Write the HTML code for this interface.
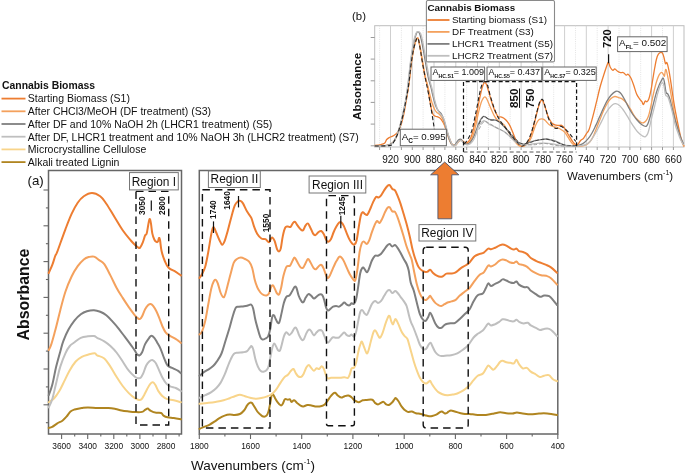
<!DOCTYPE html>
<html><head><meta charset="utf-8"><title>FTIR</title><style>html,body{margin:0;padding:0;background:#fff}svg{display:block}</style></head><body>
<svg width="685" height="475" viewBox="0 0 685 475" font-family="Liberation Sans, Arial, sans-serif" fill="#111">
<rect width="685" height="475" fill="#fff"/>
<text x="2" y="89" font-size="10.4" font-weight="bold">Cannabis Biomass</text>
<line x1="1.5" x2="25.5" y1="98.6" y2="98.6" stroke="#ED7D31" stroke-width="1.8"/>
<text x="27.8" y="102.4" font-size="10.5">Starting Biomass (S1)</text>
<line x1="1.5" x2="25.5" y1="111.3" y2="111.3" stroke="#F4A15D" stroke-width="1.8"/>
<text x="27.8" y="115.1" font-size="10.5">After CHCl3/MeOH (DF treatment) (S3)</text>
<line x1="1.5" x2="25.5" y1="124.0" y2="124.0" stroke="#7f7f7f" stroke-width="1.8"/>
<text x="27.8" y="127.8" font-size="10.5">After DF and 10% NaOH 2h (LHCR1 treatment) (S5)</text>
<line x1="1.5" x2="25.5" y1="136.7" y2="136.7" stroke="#BFBFBF" stroke-width="1.8"/>
<text x="27.8" y="140.5" font-size="10.5">After DF, LHCR1 treatment and 10% NaOH 3h (LHCR2 treatment) (S7)</text>
<line x1="1.5" x2="25.5" y1="149.4" y2="149.4" stroke="#F8D48A" stroke-width="1.8"/>
<text x="27.8" y="153.2" font-size="10.5">Microcrystalline Cellulose</text>
<line x1="1.5" x2="25.5" y1="162.1" y2="162.1" stroke="#B08520" stroke-width="1.8"/>
<text x="27.8" y="165.9" font-size="10.5">Alkali treated Lignin</text>
<rect x="374.7" y="25.7" width="309.3" height="121.3" fill="#fff" stroke="#bdbdbd" stroke-width="1"/>
<line x1="379.6" x2="379.6" y1="25.7" y2="147" stroke="#dcdcdc" stroke-width="0.8" stroke-dasharray="1,1.2"/>
<line x1="390.5" x2="390.5" y1="25.7" y2="147" stroke="#cfcfcf" stroke-width="1"/>
<line x1="401.4" x2="401.4" y1="25.7" y2="147" stroke="#dcdcdc" stroke-width="0.8" stroke-dasharray="1,1.2"/>
<line x1="412.3" x2="412.3" y1="25.7" y2="147" stroke="#cfcfcf" stroke-width="1"/>
<line x1="423.1" x2="423.1" y1="25.7" y2="147" stroke="#dcdcdc" stroke-width="0.8" stroke-dasharray="1,1.2"/>
<line x1="434.0" x2="434.0" y1="25.7" y2="147" stroke="#cfcfcf" stroke-width="1"/>
<line x1="444.9" x2="444.9" y1="25.7" y2="147" stroke="#dcdcdc" stroke-width="0.8" stroke-dasharray="1,1.2"/>
<line x1="455.8" x2="455.8" y1="25.7" y2="147" stroke="#cfcfcf" stroke-width="1"/>
<line x1="466.7" x2="466.7" y1="25.7" y2="147" stroke="#dcdcdc" stroke-width="0.8" stroke-dasharray="1,1.2"/>
<line x1="477.5" x2="477.5" y1="25.7" y2="147" stroke="#cfcfcf" stroke-width="1"/>
<line x1="488.4" x2="488.4" y1="25.7" y2="147" stroke="#dcdcdc" stroke-width="0.8" stroke-dasharray="1,1.2"/>
<line x1="499.3" x2="499.3" y1="25.7" y2="147" stroke="#cfcfcf" stroke-width="1"/>
<line x1="510.2" x2="510.2" y1="25.7" y2="147" stroke="#dcdcdc" stroke-width="0.8" stroke-dasharray="1,1.2"/>
<line x1="521.1" x2="521.1" y1="25.7" y2="147" stroke="#cfcfcf" stroke-width="1"/>
<line x1="531.9" x2="531.9" y1="25.7" y2="147" stroke="#dcdcdc" stroke-width="0.8" stroke-dasharray="1,1.2"/>
<line x1="542.8" x2="542.8" y1="25.7" y2="147" stroke="#cfcfcf" stroke-width="1"/>
<line x1="553.7" x2="553.7" y1="25.7" y2="147" stroke="#dcdcdc" stroke-width="0.8" stroke-dasharray="1,1.2"/>
<line x1="564.6" x2="564.6" y1="25.7" y2="147" stroke="#cfcfcf" stroke-width="1"/>
<line x1="575.5" x2="575.5" y1="25.7" y2="147" stroke="#dcdcdc" stroke-width="0.8" stroke-dasharray="1,1.2"/>
<line x1="586.3" x2="586.3" y1="25.7" y2="147" stroke="#cfcfcf" stroke-width="1"/>
<line x1="597.2" x2="597.2" y1="25.7" y2="147" stroke="#dcdcdc" stroke-width="0.8" stroke-dasharray="1,1.2"/>
<line x1="608.1" x2="608.1" y1="25.7" y2="147" stroke="#cfcfcf" stroke-width="1"/>
<line x1="619.0" x2="619.0" y1="25.7" y2="147" stroke="#dcdcdc" stroke-width="0.8" stroke-dasharray="1,1.2"/>
<line x1="629.9" x2="629.9" y1="25.7" y2="147" stroke="#cfcfcf" stroke-width="1"/>
<line x1="640.7" x2="640.7" y1="25.7" y2="147" stroke="#dcdcdc" stroke-width="0.8" stroke-dasharray="1,1.2"/>
<line x1="651.6" x2="651.6" y1="25.7" y2="147" stroke="#cfcfcf" stroke-width="1"/>
<line x1="662.5" x2="662.5" y1="25.7" y2="147" stroke="#dcdcdc" stroke-width="0.8" stroke-dasharray="1,1.2"/>
<line x1="673.4" x2="673.4" y1="25.7" y2="147" stroke="#cfcfcf" stroke-width="1"/>
<line x1="370.7" x2="374.7" y1="37.5" y2="37.5" stroke="#9a9a9a" stroke-width="1"/>
<line x1="370.7" x2="374.7" y1="59.1" y2="59.1" stroke="#9a9a9a" stroke-width="1"/>
<line x1="370.7" x2="374.7" y1="80.8" y2="80.8" stroke="#9a9a9a" stroke-width="1"/>
<line x1="370.7" x2="374.7" y1="102.4" y2="102.4" stroke="#9a9a9a" stroke-width="1"/>
<line x1="370.7" x2="374.7" y1="124.1" y2="124.1" stroke="#9a9a9a" stroke-width="1"/>
<line x1="370.7" x2="374.7" y1="145.8" y2="145.8" stroke="#9a9a9a" stroke-width="1"/>
<text x="390.5" y="162.8" font-size="10" text-anchor="middle">920</text>
<text x="412.3" y="162.8" font-size="10" text-anchor="middle">900</text>
<text x="434.0" y="162.8" font-size="10" text-anchor="middle">880</text>
<text x="455.8" y="162.8" font-size="10" text-anchor="middle">860</text>
<text x="477.5" y="162.8" font-size="10" text-anchor="middle">840</text>
<text x="499.3" y="162.8" font-size="10" text-anchor="middle">820</text>
<text x="521.1" y="162.8" font-size="10" text-anchor="middle">800</text>
<text x="542.8" y="162.8" font-size="10" text-anchor="middle">780</text>
<text x="564.6" y="162.8" font-size="10" text-anchor="middle">760</text>
<text x="586.3" y="162.8" font-size="10" text-anchor="middle">740</text>
<text x="608.1" y="162.8" font-size="10" text-anchor="middle">720</text>
<text x="629.9" y="162.8" font-size="10" text-anchor="middle">700</text>
<text x="651.6" y="162.8" font-size="10" text-anchor="middle">680</text>
<text x="673.4" y="162.8" font-size="10" text-anchor="middle">660</text>
<text x="352" y="20.3" font-size="11.4">(b)</text>
<text transform="translate(361.3,86.4) rotate(-90)" font-size="11.6" font-weight="bold" text-anchor="middle">Absorbance</text>
<text x="567" y="179.5" font-size="11.5">Wavenumbers (cm<tspan font-size="7" dy="-5">-1</tspan><tspan dy="5">)</tspan></text>
<line x1="379.6" x2="379.6" y1="147" y2="150" stroke="#9a9a9a" stroke-width="1"/>
<line x1="390.5" x2="390.5" y1="147" y2="150" stroke="#9a9a9a" stroke-width="1"/>
<line x1="401.4" x2="401.4" y1="147" y2="150" stroke="#9a9a9a" stroke-width="1"/>
<line x1="412.3" x2="412.3" y1="147" y2="150" stroke="#9a9a9a" stroke-width="1"/>
<line x1="423.1" x2="423.1" y1="147" y2="150" stroke="#9a9a9a" stroke-width="1"/>
<line x1="434.0" x2="434.0" y1="147" y2="150" stroke="#9a9a9a" stroke-width="1"/>
<line x1="444.9" x2="444.9" y1="147" y2="150" stroke="#9a9a9a" stroke-width="1"/>
<line x1="455.8" x2="455.8" y1="147" y2="150" stroke="#9a9a9a" stroke-width="1"/>
<line x1="466.7" x2="466.7" y1="147" y2="150" stroke="#9a9a9a" stroke-width="1"/>
<line x1="477.5" x2="477.5" y1="147" y2="150" stroke="#9a9a9a" stroke-width="1"/>
<line x1="488.4" x2="488.4" y1="147" y2="150" stroke="#9a9a9a" stroke-width="1"/>
<line x1="499.3" x2="499.3" y1="147" y2="150" stroke="#9a9a9a" stroke-width="1"/>
<line x1="510.2" x2="510.2" y1="147" y2="150" stroke="#9a9a9a" stroke-width="1"/>
<line x1="521.1" x2="521.1" y1="147" y2="150" stroke="#9a9a9a" stroke-width="1"/>
<line x1="531.9" x2="531.9" y1="147" y2="150" stroke="#9a9a9a" stroke-width="1"/>
<line x1="542.8" x2="542.8" y1="147" y2="150" stroke="#9a9a9a" stroke-width="1"/>
<line x1="553.7" x2="553.7" y1="147" y2="150" stroke="#9a9a9a" stroke-width="1"/>
<line x1="564.6" x2="564.6" y1="147" y2="150" stroke="#9a9a9a" stroke-width="1"/>
<line x1="575.5" x2="575.5" y1="147" y2="150" stroke="#9a9a9a" stroke-width="1"/>
<line x1="586.3" x2="586.3" y1="147" y2="150" stroke="#9a9a9a" stroke-width="1"/>
<line x1="597.2" x2="597.2" y1="147" y2="150" stroke="#9a9a9a" stroke-width="1"/>
<line x1="608.1" x2="608.1" y1="147" y2="150" stroke="#9a9a9a" stroke-width="1"/>
<line x1="619.0" x2="619.0" y1="147" y2="150" stroke="#9a9a9a" stroke-width="1"/>
<line x1="629.9" x2="629.9" y1="147" y2="150" stroke="#9a9a9a" stroke-width="1"/>
<line x1="640.7" x2="640.7" y1="147" y2="150" stroke="#9a9a9a" stroke-width="1"/>
<line x1="651.6" x2="651.6" y1="147" y2="150" stroke="#9a9a9a" stroke-width="1"/>
<line x1="662.5" x2="662.5" y1="147" y2="150" stroke="#9a9a9a" stroke-width="1"/>
<line x1="673.4" x2="673.4" y1="147" y2="150" stroke="#9a9a9a" stroke-width="1"/>
<path d="M374.8,145.4 C375.9,145.3 379.1,145.0 380.8,144.6 C382.5,144.2 383.4,144.1 384.5,143.2 C385.6,142.3 385.8,140.6 386.7,139.5 C387.6,138.4 388.5,138.0 389.7,137.3 C390.9,136.6 392.2,136.5 393.4,135.8 C394.6,135.1 395.4,134.5 396.3,133.6 C397.2,132.7 397.6,132.6 398.5,130.7 C399.4,128.8 400.6,126.2 401.5,123.3 C402.4,120.4 402.9,118.2 403.7,114.5 C404.5,110.8 405.0,108.0 405.9,102.7 C406.8,97.4 407.7,92.7 408.8,85.0 C409.9,77.3 410.7,67.3 411.8,60.0 C412.9,52.7 413.6,48.5 414.7,44.5 C415.8,40.5 416.8,37.4 417.7,37.9 C418.6,38.4 419.1,43.0 419.9,47.0 C420.7,51.0 421.2,55.0 422.1,60.3 C423.0,65.6 424.1,72.1 425.0,76.5 C425.9,80.9 426.5,81.9 427.2,85.0 C427.9,88.1 428.2,90.6 428.7,93.8 C429.2,97.0 429.7,99.8 430.2,102.7 C430.7,105.6 431.1,107.9 431.6,110.0 C432.1,112.1 432.4,113.4 433.1,114.5 C433.8,115.6 434.4,115.7 435.3,116.2 C436.2,116.7 437.4,116.7 438.3,117.1 C439.2,117.5 439.7,117.8 440.5,118.6 C441.3,119.4 441.9,120.4 442.7,121.8 C443.5,123.2 444.1,124.3 444.9,126.2 C445.7,128.1 446.3,130.0 447.1,132.1 C447.9,134.2 448.5,136.0 449.3,138.0 C450.1,140.0 450.8,141.9 451.5,143.2 C452.2,144.5 452.3,144.7 453.0,145.1 C453.7,145.5 454.2,145.8 455.2,145.2 C456.2,144.6 457.4,142.5 458.4,141.5 C459.4,140.5 460.0,139.9 460.9,139.9 C461.8,139.9 462.5,140.9 463.4,141.5 C464.3,142.1 465.1,143.2 466.0,143.2 C466.9,143.2 467.6,142.6 468.5,141.5 C469.4,140.4 470.1,139.6 471.0,137.3 C471.9,135.0 472.6,132.5 473.5,128.9 C474.4,125.3 475.2,121.7 476.1,117.1 C477.0,112.5 477.7,108.2 478.6,103.6 C479.5,99.0 480.3,95.3 481.1,91.8 C481.9,88.3 482.6,86.0 483.3,84.3 C484.0,82.6 484.4,82.5 485.0,82.6 C485.6,82.7 486.0,83.4 486.7,85.1 C487.4,86.8 487.9,89.1 488.7,91.8 C489.5,94.5 490.3,97.4 491.2,100.3 C492.1,103.2 492.8,105.5 493.7,107.9 C494.6,110.3 495.4,112.0 496.3,113.7 C497.2,115.4 497.7,116.5 498.5,117.1 C499.3,117.7 499.9,116.6 500.8,116.8 C501.7,117.0 502.5,117.3 503.5,118.0 C504.5,118.7 505.4,119.4 506.4,120.5 C507.4,121.6 508.0,122.4 508.9,123.9 C509.8,125.4 510.5,126.8 511.4,128.9 C512.3,131.0 513.1,133.3 514.0,135.6 C514.9,137.9 515.6,139.8 516.5,141.5 C517.4,143.2 518.1,144.0 519.0,144.9 C519.9,145.8 520.6,146.1 521.5,146.3 C522.4,146.5 523.2,146.3 524.1,145.8 C525.0,145.3 525.7,144.8 526.6,143.7 C527.5,142.6 528.2,141.8 529.1,139.9 C530.0,138.0 530.8,136.0 531.7,133.1 C532.6,130.2 533.3,127.4 534.2,123.9 C535.1,120.4 535.8,117.2 536.7,113.7 C537.6,110.2 538.4,106.9 539.2,104.5 C540.0,102.1 540.6,100.9 541.3,100.3 C542.0,99.7 542.2,99.9 542.9,101.1 C543.6,102.3 544.2,104.4 545.1,107.0 C546.0,109.6 546.8,113.0 547.7,115.4 C548.6,117.8 549.3,119.0 550.2,120.5 C551.1,122.0 551.6,123.1 552.7,123.9 C553.8,124.7 554.9,124.9 556.1,125.2 C557.3,125.5 558.4,125.5 559.4,125.5 C560.4,125.5 560.7,124.9 561.6,125.4 C562.5,125.9 563.5,126.8 564.5,128.2 C565.5,129.6 566.3,131.3 567.3,133.0 C568.3,134.7 569.2,136.1 570.2,137.7 C571.2,139.3 572.0,140.8 573.0,142.1 C574.0,143.4 575.0,144.4 575.9,144.7 C576.8,145.0 577.4,144.8 578.2,144.0 C579.0,143.2 579.6,141.5 580.6,140.5 C581.6,139.5 582.5,139.5 583.5,138.3 C584.5,137.1 585.3,135.5 586.3,133.9 C587.3,132.3 588.0,132.4 589.2,129.2 C590.4,126.0 591.6,121.0 593.0,115.9 C594.4,110.8 595.4,106.2 596.8,100.7 C598.1,95.2 599.1,90.5 600.5,85.5 C601.9,80.5 603.1,76.9 604.3,73.2 C605.5,69.5 606.4,66.6 607.2,64.7 C608.0,62.8 607.9,61.9 608.5,62.4 C609.1,62.9 609.6,66.1 610.4,67.5 C611.2,68.9 612.1,70.2 612.9,70.4 C613.7,70.6 614.0,68.6 614.8,68.8 C615.6,69.0 616.6,70.6 617.6,71.3 C618.6,72.0 619.5,72.4 620.5,72.6 C621.5,72.8 622.3,72.1 623.3,72.6 C624.3,73.0 625.3,74.8 626.2,75.1 C627.1,75.4 627.3,73.7 628.1,74.2 C628.9,74.7 629.9,76.0 630.9,78.0 C631.9,80.0 632.8,82.6 633.8,85.5 C634.8,88.4 635.6,91.7 636.6,94.1 C637.6,96.5 638.5,97.4 639.5,98.8 C640.5,100.2 641.2,100.7 641.9,101.7 C642.6,102.7 642.7,104.6 643.3,104.5 C643.9,104.4 644.5,101.6 645.2,101.1 C645.9,100.6 646.3,102.1 647.0,101.7 C647.7,101.3 648.2,100.7 648.9,98.8 C649.6,96.9 650.1,94.6 650.8,91.2 C651.5,87.8 652.0,84.0 652.7,79.9 C653.4,75.8 653.9,72.3 654.6,68.5 C655.3,64.7 655.8,61.6 656.5,59.0 C657.2,56.4 657.6,55.4 658.4,54.2 C659.2,53.0 659.9,52.5 660.7,52.3 C661.5,52.1 662.0,52.3 662.6,53.3 C663.2,54.3 663.6,56.1 664.1,58.0 C664.6,59.9 665.0,62.8 665.5,63.7 C666.0,64.6 666.4,61.6 667.0,62.8 C667.6,64.0 668.2,67.0 668.9,70.4 C669.6,73.8 670.1,77.4 670.8,81.8 C671.5,86.2 671.9,89.9 672.7,95.0 C673.5,100.1 674.2,104.9 675.2,110.2 C676.2,115.5 676.9,119.4 678.0,124.5 C679.1,129.6 680.1,134.7 681.2,138.7 C682.3,142.7 683.5,145.1 684.0,146.5" fill="none" stroke="#ED7D31" stroke-width="1.3" stroke-linejoin="round"/>
<path d="M374.8,146.0 C376.9,145.9 383.8,145.7 386.7,145.3 C389.6,144.9 389.7,144.6 391.0,143.9 C392.3,143.2 392.9,142.7 394.0,141.2 C395.1,139.7 395.9,138.0 397.0,135.4 C398.1,132.8 398.9,130.2 400.0,126.5 C401.1,122.8 401.8,119.5 402.9,114.8 C404.0,110.1 404.9,105.9 405.9,100.5 C406.9,95.1 407.6,92.2 408.6,85.0 C409.6,77.8 410.5,67.7 411.6,60.5 C412.7,53.3 413.5,49.0 414.6,45.0 C415.7,41.0 416.7,37.8 417.7,38.2 C418.7,38.6 419.3,43.0 420.1,47.0 C420.9,51.0 421.5,55.0 422.4,60.3 C423.3,65.6 424.3,71.7 425.3,76.5 C426.3,81.3 427.1,83.5 428.0,87.0 C428.9,90.5 429.4,93.0 430.2,96.0 C431.0,99.0 431.4,101.2 432.2,103.5 C433.0,105.8 433.6,107.4 434.4,109.0 C435.2,110.6 435.8,111.4 436.6,112.3 C437.4,113.2 438.2,113.2 439.0,114.0 C439.8,114.8 440.4,115.2 441.2,116.5 C442.0,117.8 442.6,118.9 443.4,121.0 C444.2,123.1 444.7,125.5 445.5,128.0 C446.3,130.5 446.8,132.7 447.6,135.0 C448.4,137.3 449.0,139.2 449.8,141.0 C450.6,142.8 451.2,144.0 452.0,144.8 C452.8,145.6 453.3,145.5 454.0,145.5 C454.7,145.5 455.0,145.7 455.8,145.0 C456.6,144.3 457.7,142.6 458.6,141.8 C459.5,141.0 460.1,140.4 461.0,140.4 C461.9,140.4 462.5,141.4 463.4,142.0 C464.3,142.6 465.2,143.6 466.2,143.8 C467.2,144.0 467.9,143.7 468.8,143.0 C469.7,142.3 470.2,141.5 471.0,139.9 C471.8,138.3 472.6,136.9 473.5,134.0 C474.4,131.1 475.2,127.8 476.1,123.9 C477.0,120.0 477.7,115.9 478.6,112.1 C479.5,108.3 480.3,105.3 481.1,102.8 C481.9,100.3 482.6,99.3 483.3,98.2 C484.0,97.1 484.3,96.7 485.0,96.9 C485.7,97.1 486.2,97.9 487.0,99.4 C487.8,100.9 488.6,103.2 489.5,105.3 C490.4,107.4 491.2,109.2 492.1,111.2 C493.0,113.2 493.7,114.8 494.6,116.3 C495.5,117.8 496.0,118.5 497.1,119.6 C498.2,120.7 499.3,121.3 500.5,122.2 C501.7,123.1 502.7,123.3 503.9,124.7 C505.1,126.1 506.1,128.1 507.2,129.8 C508.3,131.5 508.9,132.5 509.8,134.0 C510.7,135.5 511.3,136.7 512.3,138.2 C513.3,139.7 514.4,141.1 515.6,142.4 C516.8,143.7 517.8,144.9 519.0,145.6 C520.2,146.3 521.2,146.5 522.4,146.4 C523.6,146.3 524.6,145.8 525.8,144.9 C527.0,144.0 528.0,143.0 529.1,141.5 C530.2,140.0 530.8,138.8 531.7,136.5 C532.6,134.2 533.3,131.3 534.2,128.9 C535.1,126.5 535.8,124.7 536.7,123.0 C537.6,121.3 538.3,120.4 539.2,119.6 C540.1,118.8 540.9,118.8 541.8,118.8 C542.7,118.8 543.4,119.0 544.3,119.6 C545.2,120.2 545.9,121.3 546.8,122.2 C547.7,123.1 548.2,123.9 549.3,124.7 C550.4,125.5 551.5,126.0 552.7,126.4 C553.9,126.9 554.8,126.8 556.1,127.2 C557.4,127.6 558.2,127.9 559.7,128.8 C561.2,129.7 563.0,130.4 564.5,132.0 C566.0,133.6 566.9,135.6 568.3,137.7 C569.7,139.8 570.7,141.9 572.1,143.4 C573.5,144.9 574.2,145.4 575.9,145.9 C577.6,146.4 579.7,146.4 581.6,146.2 C583.5,146.0 584.8,145.5 586.3,144.7 C587.8,143.9 588.9,142.9 590.1,141.5 C591.3,140.1 592.0,138.9 593.0,136.8 C594.0,134.7 594.6,133.0 595.8,130.1 C597.0,127.2 598.2,124.0 599.6,120.6 C601.0,117.2 602.0,114.2 603.4,111.1 C604.8,108.0 605.8,105.8 607.2,103.5 C608.6,101.2 609.6,99.9 611.0,98.6 C612.4,97.3 613.4,96.7 614.8,96.5 C616.2,96.3 617.2,97.1 618.6,97.6 C620.0,98.1 621.0,98.2 622.4,99.1 C623.8,100.0 624.8,100.9 626.2,102.6 C627.6,104.3 628.6,106.1 630.0,108.3 C631.4,110.5 632.4,112.9 633.8,115.0 C635.2,117.1 636.2,118.3 637.6,119.7 C639.0,121.1 640.2,122.1 641.4,122.6 C642.6,123.1 643.2,123.0 644.2,122.4 C645.2,121.8 646.1,120.8 647.0,119.3 C647.9,117.8 648.4,116.5 649.1,114.0 C649.8,111.5 650.2,109.2 651.0,105.5 C651.8,101.8 652.5,97.8 653.5,93.5 C654.5,89.2 655.5,85.1 656.5,81.8 C657.5,78.5 658.1,76.8 659.0,75.1 C659.9,73.4 660.5,72.5 661.3,72.3 C662.1,72.1 662.6,73.5 663.2,74.2 C663.8,74.9 664.1,77.0 664.5,76.1 C664.9,75.2 665.1,69.9 665.6,69.4 C666.1,68.9 666.4,70.8 667.0,73.2 C667.6,75.6 668.2,79.1 668.9,82.7 C669.6,86.3 670.1,88.8 670.8,93.1 C671.5,97.4 672.2,101.6 673.0,106.4 C673.8,111.2 674.6,115.5 675.5,119.7 C676.4,123.9 677.2,126.4 678.2,130.0 C679.2,133.6 680.0,136.5 681.0,139.5 C682.0,142.5 683.5,145.2 684.0,146.5" fill="none" stroke="#F4A15D" stroke-width="1.3" stroke-linejoin="round"/>
<path d="M374.8,146.1 C376.9,146.0 383.8,145.8 386.7,145.4 C389.6,145.0 389.8,144.7 391.1,143.9 C392.4,143.1 393.0,142.6 394.1,141.0 C395.2,139.4 395.9,137.8 397.0,135.1 C398.1,132.4 398.9,129.9 400.0,126.2 C401.1,122.5 401.8,119.3 402.9,114.5 C404.0,109.7 405.0,105.0 405.9,99.7 C406.8,94.4 407.2,92.1 408.1,85.0 C409.0,77.9 409.9,67.7 411.0,60.0 C412.1,52.3 413.0,46.8 414.0,42.0 C415.0,37.2 415.7,35.3 416.4,33.5 C417.1,31.7 417.3,31.9 417.9,31.8 C418.5,31.7 418.9,31.7 419.5,33.2 C420.1,34.7 420.7,36.9 421.4,40.0 C422.1,43.1 422.6,46.4 423.4,50.5 C424.2,54.6 424.7,58.0 425.6,63.0 C426.5,68.0 427.4,73.7 428.4,78.0 C429.4,82.3 430.1,84.0 430.9,87.0 C431.7,90.0 431.9,91.7 432.6,94.5 C433.3,97.3 434.0,100.1 434.8,102.7 C435.6,105.3 436.2,107.2 437.0,108.8 C437.8,110.4 438.4,110.8 439.2,111.7 C440.0,112.6 440.6,112.7 441.4,114.0 C442.2,115.3 442.8,116.7 443.6,119.0 C444.4,121.3 445.0,124.1 445.8,127.0 C446.6,129.9 447.2,132.4 448.0,135.0 C448.8,137.6 449.4,139.7 450.2,141.5 C451.0,143.3 451.6,144.3 452.4,145.0 C453.2,145.7 453.8,145.7 454.6,145.2 C455.4,144.7 456.1,143.2 456.8,142.2 C457.5,141.2 457.9,140.3 458.6,139.8 C459.3,139.3 460.0,138.8 460.9,139.3 C461.8,139.8 462.3,141.5 463.4,142.4 C464.5,143.3 465.6,144.1 466.8,144.1 C468.0,144.1 469.0,143.6 470.2,142.4 C471.4,141.2 472.4,139.4 473.5,137.3 C474.6,135.2 475.2,133.0 476.1,130.6 C477.0,128.2 477.7,126.0 478.6,123.9 C479.5,121.8 480.2,120.2 481.1,118.8 C482.0,117.4 482.7,116.5 483.6,116.3 C484.5,116.1 485.3,117.0 486.2,117.5 C487.1,118.0 487.6,118.6 488.7,119.1 C489.8,119.6 490.9,119.9 492.1,120.1 C493.3,120.3 494.2,119.8 495.4,120.1 C496.6,120.4 497.6,121.0 498.8,121.8 C500.0,122.6 501.0,123.6 502.2,124.7 C503.4,125.8 504.3,126.7 505.5,128.1 C506.7,129.5 507.7,130.6 508.9,132.3 C510.1,134.0 511.1,135.8 512.3,137.3 C513.5,138.8 514.4,139.7 515.6,140.7 C516.8,141.7 517.8,142.1 519.0,142.7 C520.2,143.3 521.2,143.9 522.4,144.1 C523.6,144.3 524.6,144.0 525.8,143.7 C527.0,143.4 527.9,142.8 529.1,142.4 C530.3,142.0 531.3,141.9 532.5,141.5 C533.7,141.1 534.7,140.7 535.9,140.4 C537.1,140.1 538.0,140.1 539.2,139.9 C540.4,139.7 541.2,139.5 542.6,139.3 C544.0,139.1 545.3,138.9 546.8,139.0 C548.3,139.1 549.3,139.5 551.0,139.9 C552.7,140.3 554.5,140.7 556.1,141.3 C557.7,141.9 558.2,142.5 559.7,143.2 C561.2,143.9 562.6,144.6 564.5,145.1 C566.4,145.6 568.1,145.8 570.2,145.9 C572.3,146.0 574.0,146.1 575.9,145.9 C577.8,145.7 579.1,145.3 580.6,144.7 C582.1,144.1 583.0,143.5 584.4,142.4 C585.8,141.3 586.8,140.4 588.2,138.7 C589.6,137.0 590.6,135.4 592.0,133.0 C593.4,130.6 594.4,128.3 595.8,125.4 C597.2,122.5 598.2,119.9 599.6,116.8 C601.0,113.7 602.0,111.2 603.4,108.3 C604.8,105.4 605.8,103.0 607.2,100.7 C608.6,98.4 609.5,97.0 611.0,95.3 C612.5,93.6 614.3,92.1 615.7,91.4 C617.1,90.7 617.6,91.1 618.6,91.6 C619.6,92.1 620.2,92.5 621.4,94.1 C622.6,95.7 623.8,98.1 625.2,100.7 C626.6,103.3 627.6,105.8 629.0,108.3 C630.4,110.8 631.4,112.5 632.8,114.5 C634.2,116.5 635.2,117.9 636.6,119.5 C638.0,121.1 639.0,122.3 640.4,123.5 C641.8,124.7 643.1,125.5 644.2,126.0 C645.3,126.5 645.8,126.7 646.6,126.0 C647.4,125.3 647.9,124.0 648.6,122.0 C649.3,120.0 649.7,118.5 650.6,115.0 C651.5,111.5 652.6,106.7 653.7,102.6 C654.8,98.5 655.5,95.4 656.5,92.2 C657.5,89.0 658.5,86.7 659.4,84.6 C660.3,82.5 660.6,82.0 661.3,80.8 C662.0,79.6 662.6,77.7 663.2,78.0 C663.8,78.3 664.0,80.1 664.5,82.7 C665.0,85.3 665.4,90.1 666.0,92.2 C666.6,94.3 667.2,92.9 667.9,94.1 C668.6,95.3 669.1,96.6 669.8,98.8 C670.5,101.0 670.8,103.0 671.7,106.4 C672.6,109.8 673.6,114.0 674.6,117.8 C675.6,121.6 676.3,123.8 677.4,127.3 C678.5,130.8 679.4,134.0 680.5,137.0 C681.6,140.0 683.0,142.7 683.5,144.0" fill="none" stroke="#7f7f7f" stroke-width="1.3" stroke-linejoin="round"/>
<path d="M374.8,146.3 C377.0,146.2 383.9,146.1 386.9,145.7 C389.9,145.3 390.2,145.1 391.5,144.3 C392.8,143.5 392.9,143.0 393.9,141.4 C394.9,139.8 395.8,138.2 396.8,135.5 C397.8,132.8 398.7,130.2 399.7,126.5 C400.7,122.8 401.5,119.6 402.6,114.8 C403.7,110.0 404.7,105.3 405.6,99.9 C406.5,94.5 406.9,92.2 407.8,85.0 C408.7,77.8 409.7,67.8 410.7,60.0 C411.7,52.2 412.7,46.7 413.6,41.9 C414.5,37.1 415.1,35.3 415.9,33.4 C416.7,31.5 417.3,31.6 418.1,31.6 C418.9,31.6 419.7,31.6 420.5,33.2 C421.3,34.8 421.8,37.1 422.5,40.4 C423.2,43.7 423.7,47.3 424.5,51.5 C425.3,55.7 425.8,59.0 426.7,64.0 C427.6,69.0 428.6,74.7 429.5,79.0 C430.4,83.3 431.1,84.9 431.9,88.0 C432.7,91.1 433.0,93.0 433.7,96.0 C434.4,99.0 435.1,101.8 435.9,104.5 C436.7,107.2 437.3,109.1 438.1,110.8 C438.9,112.5 439.5,113.0 440.3,114.0 C441.1,115.0 441.7,115.2 442.5,116.5 C443.3,117.8 443.9,119.2 444.7,121.5 C445.5,123.8 446.1,126.7 446.9,129.5 C447.7,132.3 448.3,134.6 449.1,137.0 C449.9,139.4 450.6,141.3 451.3,142.8 C452.0,144.3 452.1,145.1 452.8,145.6 C453.5,146.1 454.2,146.0 455.0,145.6 C455.8,145.2 456.5,144.0 457.2,143.2 C457.9,142.4 458.3,141.5 459.0,141.0 C459.7,140.5 460.4,140.2 461.3,140.6 C462.2,141.0 462.7,142.2 463.8,143.0 C464.9,143.8 466.0,144.7 467.2,144.8 C468.4,144.9 469.4,144.6 470.6,143.6 C471.8,142.6 472.8,141.3 473.8,139.5 C474.8,137.7 475.4,135.9 476.3,133.5 C477.2,131.1 477.7,128.3 478.6,126.4 C479.5,124.5 480.2,124.0 481.1,123.0 C482.0,122.0 482.7,121.0 483.6,120.8 C484.5,120.6 485.3,121.2 486.2,121.8 C487.1,122.4 487.3,123.1 488.7,123.9 C490.1,124.7 491.9,125.5 493.7,126.4 C495.5,127.3 497.0,128.0 498.8,128.9 C500.6,129.8 502.1,130.2 503.9,131.4 C505.7,132.6 507.1,133.9 508.9,135.6 C510.7,137.3 512.2,139.2 514.0,140.7 C515.8,142.2 517.2,142.9 519.0,143.7 C520.8,144.5 522.3,144.8 524.1,144.9 C525.9,145.0 527.3,144.6 529.1,144.4 C530.9,144.2 532.4,143.9 534.2,143.7 C536.0,143.5 537.4,143.3 539.2,143.2 C541.0,143.1 542.2,143.1 544.3,143.2 C546.4,143.3 548.6,143.4 551.0,143.7 C553.4,144.0 555.4,144.5 557.8,144.9 C560.2,145.3 561.9,145.8 564.5,146.0 C567.1,146.2 569.3,146.2 572.0,146.2 C574.7,146.2 577.3,146.2 579.7,145.9 C582.1,145.6 583.5,145.5 585.4,144.7 C587.3,143.9 588.6,143.1 590.1,141.5 C591.6,139.9 592.5,138.0 593.9,135.8 C595.3,133.6 596.3,131.8 597.7,129.2 C599.1,126.6 600.1,124.3 601.5,121.6 C602.9,118.9 603.9,116.4 605.3,114.0 C606.7,111.6 607.7,110.0 609.1,108.3 C610.5,106.6 611.7,105.3 612.9,104.5 C614.1,103.7 614.5,103.5 615.7,103.7 C616.9,103.9 618.1,104.3 619.5,105.4 C620.9,106.5 621.9,108.1 623.3,110.0 C624.7,111.9 625.7,113.7 627.1,115.9 C628.5,118.1 629.5,120.1 630.9,122.3 C632.3,124.5 633.3,126.1 634.7,128.0 C636.1,129.9 637.1,131.4 638.5,132.8 C639.9,134.2 641.1,135.1 642.3,135.8 C643.5,136.5 644.2,137.1 645.2,136.8 C646.2,136.5 646.8,135.6 647.6,133.9 C648.4,132.2 648.8,130.1 649.5,127.3 C650.2,124.5 650.6,122.3 651.5,118.5 C652.4,114.7 653.5,110.8 654.6,106.4 C655.7,102.0 656.5,97.9 657.5,94.1 C658.5,90.3 659.4,87.6 660.3,85.5 C661.2,83.4 661.9,82.5 662.6,82.7 C663.3,82.9 663.6,84.3 664.1,86.5 C664.6,88.7 664.9,93.1 665.6,95.0 C666.3,96.9 667.1,95.5 667.9,96.9 C668.7,98.3 669.0,99.9 669.8,102.6 C670.6,105.3 671.4,108.3 672.3,112.1 C673.2,115.9 674.0,120.0 674.9,123.5 C675.8,127.0 676.5,128.6 677.5,131.5 C678.5,134.4 679.4,137.1 680.5,139.5 C681.6,141.9 683.0,144.0 683.5,145.0" fill="none" stroke="#BFBFBF" stroke-width="1.3" stroke-linejoin="round"/>
<path d="M374.8,146.0 C377.6,145.9 386.9,146.2 390.4,145.4 C393.9,144.6 392.8,143.3 394.0,141.5 C395.2,139.7 395.9,138.2 397.0,135.5 C398.1,132.8 398.9,130.2 400.0,126.5 C401.1,122.8 401.9,119.7 403.0,115.0 C404.1,110.3 404.9,105.9 405.9,100.5 C406.9,95.1 407.6,92.2 408.6,85.0 C409.6,77.8 410.5,67.7 411.6,60.5 C412.7,53.3 413.5,49.1 414.6,45.0 C415.7,40.9 416.7,37.5 417.7,37.9 C418.7,38.3 419.1,43.0 419.9,47.0 C420.7,51.0 421.2,55.0 422.1,60.3 C423.0,65.6 423.9,70.9 425.0,76.5 C426.1,82.1 426.9,85.5 428.0,91.2 C429.1,96.9 429.9,101.7 431.0,108.0 C432.1,114.3 432.9,120.1 433.9,126.2 C434.9,132.3 436.0,139.2 436.5,142.0" fill="none" stroke="#222" stroke-width="1.1" stroke-dasharray="4,2.5"/>
<path d="M464.3,144.1 C465.0,143.2 466.6,141.4 468.0,139.0 C469.4,136.6 470.6,134.2 471.8,130.6 C473.0,127.0 473.6,123.2 474.5,119.0 C475.4,114.8 476.1,111.5 477.0,107.0 C477.9,102.5 478.6,98.0 479.5,94.0 C480.4,90.0 481.0,86.8 482.0,84.5 C483.0,82.2 484.0,81.4 485.0,81.5 C486.0,81.6 486.4,81.8 487.5,85.0 C488.6,88.2 489.6,93.9 491.2,99.0 C492.8,104.1 494.5,109.4 496.3,113.5 C498.1,117.6 499.3,119.4 501.0,122.0 C502.7,124.6 503.9,125.7 505.5,127.8 C507.1,129.9 508.5,131.6 510.0,133.5 C511.5,135.4 512.6,136.8 514.0,138.5 C515.4,140.2 516.6,141.6 518.0,143.0 C519.4,144.4 520.1,146.0 521.5,146.2 C522.9,146.4 524.1,145.4 525.5,144.0 C526.9,142.6 527.9,140.8 529.0,138.5 C530.1,136.2 530.8,134.4 531.7,131.5 C532.6,128.6 533.3,125.9 534.2,122.5 C535.1,119.1 535.8,115.9 536.7,112.5 C537.6,109.1 538.4,105.8 539.2,103.5 C540.0,101.2 540.6,100.0 541.3,99.5 C542.0,99.0 542.4,99.1 543.2,100.6 C544.0,102.1 544.6,105.0 545.5,108.0 C546.4,111.0 547.1,114.4 548.0,117.0 C548.9,119.6 549.6,120.8 550.5,122.5 C551.4,124.2 552.0,125.4 553.0,126.5 C554.0,127.6 555.0,128.3 556.0,128.5 C557.0,128.7 557.7,128.0 558.5,127.6 C559.3,127.2 559.3,125.8 560.7,126.3 C562.1,126.8 564.3,128.2 566.4,130.1 C568.5,132.0 570.4,134.7 572.1,136.8 C573.8,138.9 575.2,140.7 575.9,141.5" fill="none" stroke="#222" stroke-width="1.1" stroke-dasharray="4,2.5"/>
<path d="M479.0,124.0 C479.6,122.8 481.6,118.7 482.6,117.4 C483.6,116.1 483.8,116.4 484.7,116.6 C485.6,116.8 486.4,117.8 487.4,118.4 C488.4,119.0 489.2,119.7 490.5,120.0 C491.8,120.3 493.4,119.6 494.7,119.8 C496.0,120.0 496.7,120.4 497.9,121.1 C499.1,121.8 500.0,122.8 501.1,123.7 C502.2,124.6 503.1,125.3 504.2,126.3 C505.3,127.3 506.3,128.4 507.4,129.5 C508.5,130.6 509.4,131.3 510.5,132.6 C511.6,133.9 512.4,135.3 513.7,136.8 C515.0,138.3 516.4,139.9 517.9,141.1 C519.4,142.3 520.1,143.4 522.1,143.7 C524.1,144.0 526.8,143.4 528.9,143.0 C531.0,142.6 531.8,141.8 533.5,141.3 C535.2,140.8 536.4,140.5 538.1,140.1 C539.8,139.7 541.3,139.5 542.8,139.3 C544.3,139.1 544.8,139.1 546.3,139.2 C547.8,139.3 549.2,139.6 550.9,140.1 C552.6,140.6 553.8,141.3 555.5,141.9 C557.2,142.5 558.4,143.0 560.1,143.6 C561.8,144.2 562.9,144.6 564.8,145.0 C566.7,145.4 568.5,145.5 570.6,145.6 C572.7,145.7 575.3,145.6 576.3,145.6" fill="none" stroke="#333" stroke-width="0.8" stroke-dasharray="3.5,2"/>
<path d="M478.9,129.5 C479.5,128.5 481.1,125.1 482.1,123.7 C483.1,122.3 483.7,121.9 484.7,121.6 C485.7,121.3 486.2,121.7 487.4,122.3 C488.6,122.9 489.9,123.7 491.6,124.7 C493.3,125.7 494.9,126.9 496.8,127.9 C498.7,128.9 500.4,129.5 502.1,130.5 C503.8,131.5 504.8,132.1 506.3,133.2 C507.8,134.3 509.0,135.5 510.5,136.8 C512.0,138.1 513.0,139.2 514.7,140.5 C516.4,141.8 518.0,143.4 520.0,144.2 C522.0,145.0 523.6,144.8 526.0,144.9 C528.4,145.0 531.3,144.9 533.5,144.8 C535.7,144.7 536.4,144.5 538.1,144.2 C539.8,143.9 541.3,143.5 542.8,143.4 C544.3,143.3 544.8,143.4 546.3,143.6 C547.8,143.8 549.2,144.2 550.9,144.5 C552.6,144.8 553.6,145.0 555.5,145.3 C557.4,145.6 557.8,145.8 561.3,145.9 C564.8,146.0 572.5,146.0 575.0,146.0" fill="none" stroke="#8a8a8a" stroke-width="0.8" stroke-dasharray="3.5,2"/>
<path d="M463.5,152 L463.5,81.6 L576.6,81.6 L576.6,147" fill="none" stroke="#111" stroke-width="1.2" stroke-dasharray="4,2.6"/>
<path d="M463.5,152 L576.6,152" fill="none" stroke="#555" stroke-width="1" stroke-dasharray="4,2.6"/>
<text transform="translate(518,107.9) rotate(-90)" font-size="11.6" font-weight="bold">850</text>
<line x1="519.5" x2="519.5" y1="88.5" y2="107.9" stroke="#111" stroke-width="1"/>
<text transform="translate(534.2,107.9) rotate(-90)" font-size="11.6" font-weight="bold">750</text>
<rect x="426.4" y="0.5" width="128.1" height="61.4" rx="1.5" fill="#fff" stroke="#8a8a8a" stroke-width="1.1"/>
<text x="427.5" y="11.3" font-size="9.8" font-weight="bold">Cannabis Biomass</text>
<line x1="427.5" x2="449.5" y1="20.0" y2="20.0" stroke="#ED7D31" stroke-width="1.8"/>
<text x="452" y="23.3" font-size="9.9">Starting biomass (S1)</text>
<line x1="427.5" x2="449.5" y1="31.9" y2="31.9" stroke="#F4A15D" stroke-width="1.8"/>
<text x="452" y="35.2" font-size="9.9">DF Treatment (S3)</text>
<line x1="427.5" x2="449.5" y1="43.9" y2="43.9" stroke="#7f7f7f" stroke-width="1.8"/>
<text x="452" y="47.2" font-size="9.9">LHCR1 Treatment (S5)</text>
<line x1="427.5" x2="449.5" y1="55.8" y2="55.8" stroke="#BFBFBF" stroke-width="1.8"/>
<text x="452" y="59.1" font-size="9.9">LHCR2 Treatment (S7)</text>
<rect x="431" y="67" width="53.60000000000002" height="13.400000000000006" fill="#fff" stroke="#666" stroke-width="1"/>
<text x="432.5" y="75.4" font-size="9.0">A<tspan font-size="5.2" font-weight="bold" dy="2.8">HC.S1</tspan><tspan dy="-2.8">= 1.009</tspan></text>
<rect x="487" y="67" width="54.700000000000045" height="13.400000000000006" fill="#fff" stroke="#666" stroke-width="1"/>
<text x="488.5" y="75.4" font-size="9.0">A<tspan font-size="5.2" font-weight="bold" dy="2.8">HC.S5</tspan><tspan dy="-2.8">= 0.437</tspan></text>
<rect x="542.7" y="67" width="53.5" height="13.400000000000006" fill="#fff" stroke="#666" stroke-width="1"/>
<text x="544.2" y="75.4" font-size="9.0">A<tspan font-size="5.2" font-weight="bold" dy="2.8">HC.S7</tspan><tspan dy="-2.8">= 0.325</tspan></text>
<rect x="617.6" y="36.8" width="49.5" height="14.800000000000004" fill="#fff" stroke="#666" stroke-width="1"/>
<text x="619.1" y="45.9" font-size="9.9">A<tspan font-size="6" font-weight="bold" dy="3.4">FL</tspan><tspan dy="-3.4">= 0.502</tspan></text>
<rect x="400.3" y="129.2" width="46.099999999999966" height="16.5" fill="#fff" stroke="#666" stroke-width="1"/>
<text x="401.8" y="139.5" font-size="9.7">A<tspan font-size="6.5" font-weight="bold" dy="3.5">C</tspan><tspan dy="-3.5">= 0.995</tspan></text>
<text transform="translate(610.5,48) rotate(-90)" font-size="11.2" font-weight="bold">720</text>
<line x1="608.6" x2="608.6" y1="54.3" y2="63.2" stroke="#111" stroke-width="1.2"/>
<rect x="48.5" y="170.5" width="133.0" height="263.5" fill="none" stroke="#666" stroke-width="1.5"/>
<rect x="199.3" y="170.5" width="358.49999999999994" height="263.5" fill="none" stroke="#666" stroke-width="1.5"/>
<line x1="43.5" x2="48.5" y1="190.0" y2="190.0" stroke="#666" stroke-width="1.1"/>
<line x1="45.9" x2="48.5" y1="207.9" y2="207.9" stroke="#666" stroke-width="1.1"/>
<line x1="43.5" x2="48.5" y1="225.8" y2="225.8" stroke="#666" stroke-width="1.1"/>
<line x1="45.9" x2="48.5" y1="243.7" y2="243.7" stroke="#666" stroke-width="1.1"/>
<line x1="43.5" x2="48.5" y1="261.6" y2="261.6" stroke="#666" stroke-width="1.1"/>
<line x1="45.9" x2="48.5" y1="279.5" y2="279.5" stroke="#666" stroke-width="1.1"/>
<line x1="43.5" x2="48.5" y1="297.4" y2="297.4" stroke="#666" stroke-width="1.1"/>
<line x1="45.9" x2="48.5" y1="315.3" y2="315.3" stroke="#666" stroke-width="1.1"/>
<line x1="43.5" x2="48.5" y1="333.2" y2="333.2" stroke="#666" stroke-width="1.1"/>
<line x1="45.9" x2="48.5" y1="351.1" y2="351.1" stroke="#666" stroke-width="1.1"/>
<line x1="43.5" x2="48.5" y1="369.0" y2="369.0" stroke="#666" stroke-width="1.1"/>
<line x1="45.9" x2="48.5" y1="386.9" y2="386.9" stroke="#666" stroke-width="1.1"/>
<line x1="43.5" x2="48.5" y1="404.8" y2="404.8" stroke="#666" stroke-width="1.1"/>
<line x1="45.9" x2="48.5" y1="422.7" y2="422.7" stroke="#666" stroke-width="1.1"/>
<line x1="61.6" x2="61.6" y1="434" y2="439" stroke="#666" stroke-width="1.1"/>
<text x="61.6" y="448.9" font-size="8.4" text-anchor="middle">3600</text>
<line x1="74.7" x2="74.7" y1="434" y2="436.6" stroke="#666" stroke-width="1.1"/>
<line x1="87.7" x2="87.7" y1="434" y2="439" stroke="#666" stroke-width="1.1"/>
<text x="87.7" y="448.9" font-size="8.4" text-anchor="middle">3400</text>
<line x1="100.8" x2="100.8" y1="434" y2="436.6" stroke="#666" stroke-width="1.1"/>
<line x1="113.8" x2="113.8" y1="434" y2="439" stroke="#666" stroke-width="1.1"/>
<text x="113.8" y="448.9" font-size="8.4" text-anchor="middle">3200</text>
<line x1="126.8" x2="126.8" y1="434" y2="436.6" stroke="#666" stroke-width="1.1"/>
<line x1="139.9" x2="139.9" y1="434" y2="439" stroke="#666" stroke-width="1.1"/>
<text x="139.9" y="448.9" font-size="8.4" text-anchor="middle">3000</text>
<line x1="153.0" x2="153.0" y1="434" y2="436.6" stroke="#666" stroke-width="1.1"/>
<line x1="166.0" x2="166.0" y1="434" y2="439" stroke="#666" stroke-width="1.1"/>
<text x="166.0" y="448.9" font-size="8.4" text-anchor="middle">2800</text>
<line x1="179.1" x2="179.1" y1="434" y2="436.6" stroke="#666" stroke-width="1.1"/>
<line x1="199.3" x2="199.3" y1="434" y2="439" stroke="#666" stroke-width="1.1"/>
<text x="199.3" y="448.9" font-size="8.4" text-anchor="middle">1800</text>
<line x1="224.9" x2="224.9" y1="434" y2="436.6" stroke="#666" stroke-width="1.1"/>
<line x1="250.5" x2="250.5" y1="434" y2="439" stroke="#666" stroke-width="1.1"/>
<text x="250.5" y="448.9" font-size="8.4" text-anchor="middle">1600</text>
<line x1="276.1" x2="276.1" y1="434" y2="436.6" stroke="#666" stroke-width="1.1"/>
<line x1="301.7" x2="301.7" y1="434" y2="439" stroke="#666" stroke-width="1.1"/>
<text x="301.7" y="448.9" font-size="8.4" text-anchor="middle">1400</text>
<line x1="327.3" x2="327.3" y1="434" y2="436.6" stroke="#666" stroke-width="1.1"/>
<line x1="352.9" x2="352.9" y1="434" y2="439" stroke="#666" stroke-width="1.1"/>
<text x="352.9" y="448.9" font-size="8.4" text-anchor="middle">1200</text>
<line x1="378.5" x2="378.5" y1="434" y2="436.6" stroke="#666" stroke-width="1.1"/>
<line x1="404.2" x2="404.2" y1="434" y2="439" stroke="#666" stroke-width="1.1"/>
<text x="404.2" y="448.9" font-size="8.4" text-anchor="middle">1000</text>
<line x1="429.8" x2="429.8" y1="434" y2="436.6" stroke="#666" stroke-width="1.1"/>
<line x1="455.4" x2="455.4" y1="434" y2="439" stroke="#666" stroke-width="1.1"/>
<text x="455.4" y="448.9" font-size="8.4" text-anchor="middle">800</text>
<line x1="481.0" x2="481.0" y1="434" y2="436.6" stroke="#666" stroke-width="1.1"/>
<line x1="506.6" x2="506.6" y1="434" y2="439" stroke="#666" stroke-width="1.1"/>
<text x="506.6" y="448.9" font-size="8.4" text-anchor="middle">600</text>
<line x1="532.2" x2="532.2" y1="434" y2="436.6" stroke="#666" stroke-width="1.1"/>
<line x1="557.8" x2="557.8" y1="434" y2="439" stroke="#666" stroke-width="1.1"/>
<text x="557.8" y="448.9" font-size="8.4" text-anchor="middle">400</text>
<text x="191" y="470.2" font-size="13.5">Wavenumbers (cm<tspan font-size="7.5" dy="-6">-1</tspan><tspan dy="6">)</tspan></text>
<text transform="translate(28.7,294.5) rotate(-90)" font-size="15.9" font-weight="bold" text-anchor="middle">Absorbance</text>
<text x="27.5" y="185" font-size="13.3">(a)</text>
<path d="M48.7,427.9 C49.3,427.7 50.7,427.7 52.2,426.9 C53.7,426.1 55.5,424.5 57.3,423.4 C59.1,422.3 60.7,421.9 62.4,420.7 C64.1,419.5 65.0,418.3 66.5,416.6 C68.0,414.9 69.0,412.8 70.5,411.5 C72.0,410.2 72.6,410.1 74.6,409.5 C76.6,408.9 79.4,408.5 81.8,408.1 C84.2,407.7 85.0,407.4 87.9,407.4 C90.8,407.4 94.4,408.0 98.1,408.1 C101.8,408.2 105.3,407.8 108.4,407.9 C111.5,408.0 113.1,408.4 115.5,408.9 C117.9,409.4 119.2,410.0 121.6,410.5 C124.0,411.0 126.2,411.2 128.8,411.5 C131.4,411.8 133.5,412.0 135.9,412.1 C138.3,412.2 140.4,412.3 142.1,411.9 C143.8,411.5 144.1,410.5 145.1,409.9 C146.1,409.3 146.9,408.4 147.8,408.5 C148.7,408.6 148.9,409.8 150.3,410.5 C151.7,411.2 153.5,412.2 155.4,412.6 C157.3,413.1 159.6,412.5 161.1,413.0 C162.6,413.5 162.3,414.8 163.5,415.6 C164.7,416.4 165.7,416.9 167.6,417.3 C169.5,417.8 171.4,417.7 173.8,418.1 C176.2,418.5 179.6,419.1 180.9,419.3" fill="none" stroke="#B08520" stroke-width="2.0" stroke-linejoin="round" stroke-linecap="round"/>
<path d="M48.7,402.3 C49.7,401.6 52.3,400.2 54.2,398.2 C56.1,396.2 57.5,394.2 59.3,391.1 C61.1,388.0 62.6,384.6 64.4,380.9 C66.2,377.2 67.5,374.2 69.5,370.7 C71.5,367.2 73.5,364.0 75.7,361.5 C77.9,359.0 79.6,358.0 81.8,356.8 C84.0,355.6 85.6,355.3 87.9,354.7 C90.2,354.1 93.0,353.2 94.7,353.3 C96.4,353.4 95.4,354.4 97.1,355.3 C98.8,356.2 101.9,356.4 104.3,358.4 C106.7,360.4 108.2,363.3 110.4,366.6 C112.6,369.9 114.3,373.3 116.5,376.8 C118.7,380.3 120.5,383.1 122.7,386.0 C124.9,388.9 126.6,390.9 128.8,393.1 C131.0,395.3 133.1,397.0 134.9,398.2 C136.7,399.4 137.8,399.7 139.0,399.9 C140.2,400.1 140.6,400.1 141.5,399.3 C142.4,398.5 143.1,397.1 144.1,395.2 C145.1,393.3 146.1,391.0 147.2,389.0 C148.3,387.0 149.3,385.1 150.3,383.9 C151.3,382.7 152.0,382.1 152.9,382.3 C153.8,382.5 154.4,383.4 155.4,385.0 C156.4,386.6 157.1,389.1 158.4,391.1 C159.7,393.1 161.0,394.8 162.5,396.2 C164.0,397.6 164.6,398.2 166.6,398.9 C168.6,399.6 171.2,399.7 173.8,400.3 C176.4,400.9 179.6,401.9 180.9,402.3" fill="none" stroke="#F8D48A" stroke-width="2.0" stroke-linejoin="round" stroke-linecap="round"/>
<path d="M48.7,407.4 C49.3,405.9 50.9,403.7 52.2,399.3 C53.6,394.9 54.7,388.8 56.2,382.9 C57.7,377.0 58.6,371.9 60.3,366.6 C62.0,361.3 63.7,357.0 65.4,353.3 C67.1,349.6 68.1,348.0 69.8,346.0 C71.5,344.0 72.6,343.8 74.6,342.3 C76.6,340.8 78.4,338.9 80.8,337.8 C83.2,336.7 85.5,336.6 87.9,336.3 C90.3,336.0 92.3,335.8 94.0,336.1 C95.7,336.4 95.2,336.8 97.1,337.8 C99.0,338.8 101.9,339.9 104.3,341.4 C106.7,342.9 108.2,344.0 110.4,346.0 C112.6,348.0 114.3,349.7 116.5,352.5 C118.7,355.3 120.5,358.2 122.7,361.5 C124.9,364.8 126.6,367.9 128.8,370.7 C131.0,373.5 133.2,375.4 134.9,376.8 C136.6,378.2 137.0,378.0 138.0,378.2 C139.0,378.4 139.7,378.6 140.6,377.8 C141.5,377.0 142.1,375.9 143.1,373.7 C144.1,371.5 145.1,367.7 146.2,365.5 C147.3,363.3 148.1,362.5 149.2,361.5 C150.3,360.5 151.2,359.8 152.3,360.0 C153.4,360.2 154.3,361.0 155.4,362.5 C156.5,364.0 157.1,365.8 158.4,368.6 C159.7,371.4 161.0,375.0 162.5,377.8 C164.0,380.6 165.1,382.3 166.6,383.9 C168.1,385.5 169.0,385.9 170.7,386.6 C172.4,387.3 174.0,387.2 175.8,388.0 C177.6,388.8 180.0,390.5 180.9,391.1" fill="none" stroke="#BFBFBF" stroke-width="2.0" stroke-linejoin="round" stroke-linecap="round"/>
<path d="M48.7,395.2 C49.3,393.4 50.9,390.1 52.2,385.0 C53.6,379.9 54.7,372.6 56.2,366.6 C57.7,360.6 59.0,356.1 60.3,351.5 C61.6,346.9 61.9,344.7 63.4,340.8 C64.9,336.9 66.5,333.3 68.5,329.6 C70.5,325.9 72.4,323.2 74.6,320.4 C76.8,317.6 78.6,316.0 80.8,314.3 C83.0,312.6 84.5,311.9 86.9,311.2 C89.3,310.5 91.6,310.1 94.0,310.2 C96.4,310.3 98.0,310.9 100.2,311.8 C102.4,312.7 104.1,313.6 106.3,315.3 C108.5,317.0 110.2,319.0 112.4,321.4 C114.6,323.8 116.4,325.8 118.6,328.6 C120.8,331.4 122.5,333.8 124.7,336.7 C126.9,339.6 129.0,342.4 130.8,344.9 C132.6,347.4 133.8,348.9 134.9,350.6 C136.0,352.3 136.2,353.5 137.0,354.3 C137.8,355.1 138.7,355.7 139.6,355.3 C140.5,354.9 141.1,354.3 142.1,352.3 C143.1,350.3 143.8,346.7 145.1,344.1 C146.4,341.5 148.1,339.3 149.2,337.8 C150.3,336.3 150.4,335.7 151.3,335.7 C152.2,335.7 153.2,336.5 154.3,337.8 C155.4,339.1 156.3,341.0 157.4,342.9 C158.5,344.8 159.2,345.6 160.5,348.6 C161.8,351.6 163.3,356.4 164.6,359.4 C165.9,362.4 166.1,363.9 167.6,365.5 C169.1,367.1 170.9,367.3 172.7,368.2 C174.5,369.1 176.3,369.8 177.8,370.7 C179.3,371.6 180.3,372.7 180.9,373.1" fill="none" stroke="#7f7f7f" stroke-width="2.0" stroke-linejoin="round" stroke-linecap="round"/>
<path d="M48.7,350.0 C49.1,349.1 49.9,348.4 51.1,344.9 C52.3,341.4 53.5,336.8 55.2,330.6 C56.9,324.4 58.5,317.2 60.3,310.2 C62.1,303.2 63.4,297.9 65.4,291.8 C67.4,285.7 69.4,281.1 71.6,276.5 C73.8,271.9 75.5,269.3 77.7,266.2 C79.9,263.1 81.8,261.2 83.8,259.5 C85.8,257.8 87.1,257.5 88.9,257.0 C90.7,256.5 92.1,256.0 94.0,256.6 C95.9,257.2 97.3,258.7 99.2,260.1 C101.1,261.5 102.3,261.4 104.3,264.2 C106.3,267.0 108.2,271.2 110.4,275.4 C112.6,279.6 114.3,283.6 116.5,287.7 C118.7,291.8 120.5,294.4 122.7,297.9 C124.9,301.4 126.6,304.0 128.8,307.1 C131.0,310.2 133.2,313.3 134.9,315.3 C136.6,317.3 137.1,317.7 138.0,318.4 C138.9,319.1 139.3,319.4 140.0,319.0 C140.7,318.6 141.2,318.1 142.1,316.3 C143.0,314.5 144.0,311.2 145.1,309.2 C146.2,307.2 147.2,306.0 148.2,305.1 C149.2,304.2 149.8,303.8 150.7,304.0 C151.6,304.2 152.3,304.8 153.3,306.1 C154.3,307.4 155.3,309.0 156.4,311.2 C157.5,313.4 158.3,315.6 159.4,318.4 C160.5,321.2 161.4,324.0 162.5,326.5 C163.6,329.0 164.5,330.8 165.6,332.3 C166.7,333.8 167.1,334.1 168.6,335.1 C170.1,336.1 172.1,336.8 173.8,337.8 C175.5,338.8 176.5,339.5 177.8,340.4 C179.1,341.3 180.3,342.4 180.9,342.9" fill="none" stroke="#F4A15D" stroke-width="2.0" stroke-linejoin="round" stroke-linecap="round"/>
<path d="M48.7,273.0 C49.3,271.6 51.0,268.3 52.2,265.2 C53.4,262.1 54.3,258.4 55.2,256.0 C56.1,253.6 55.5,256.5 57.3,251.7 C59.1,246.9 62.8,236.1 65.4,229.3 C68.0,222.5 69.4,218.7 71.6,213.9 C73.8,209.1 75.5,205.9 77.7,202.7 C79.9,199.5 81.2,198.0 83.8,196.2 C86.4,194.4 89.0,192.9 92.0,192.9 C95.0,192.9 97.6,194.3 100.2,196.2 C102.8,198.1 103.7,200.0 106.3,203.7 C108.9,207.4 111.5,212.2 114.5,217.0 C117.5,221.8 119.8,226.1 122.7,230.3 C125.6,234.5 128.4,237.7 130.8,240.5 C133.2,243.3 134.6,244.4 135.9,245.6 C137.2,246.8 137.3,246.9 138.0,247.3 C138.7,247.7 139.2,248.5 140.0,247.7 C140.8,246.9 141.8,244.8 142.7,242.6 C143.6,240.4 144.4,237.0 145.1,235.4 C145.8,233.8 146.0,235.6 146.6,233.8 C147.2,232.0 147.7,227.9 148.2,225.2 C148.7,222.5 149.1,219.4 149.6,219.0 C150.1,218.6 150.4,220.5 150.9,223.1 C151.4,225.7 151.7,230.4 152.3,233.4 C152.9,236.4 153.6,238.0 154.3,239.5 C155.0,241.0 155.7,241.5 156.4,241.9 C157.1,242.3 157.5,242.2 158.0,241.5 C158.5,240.8 158.6,238.2 159.0,238.0 C159.4,237.8 159.7,238.2 160.1,240.5 C160.5,242.8 160.7,247.1 161.5,250.7 C162.3,254.3 163.3,257.4 164.6,260.5 C165.9,263.6 166.6,265.7 168.6,267.7 C170.6,269.7 173.6,270.4 175.8,271.8 C178.0,273.2 180.0,274.8 180.9,275.4" fill="none" stroke="#ED7D31" stroke-width="2.0" stroke-linejoin="round" stroke-linecap="round"/>
<path d="M199.5,428.9 C200.3,428.5 202.4,427.6 204.2,426.9 C206.0,426.2 207.5,425.7 209.3,424.8 C211.1,423.9 212.6,422.9 214.4,421.7 C216.2,420.5 217.7,419.2 219.5,418.1 C221.3,417.0 222.8,416.2 224.6,415.6 C226.4,415.0 227.9,414.7 229.7,414.6 C231.5,414.5 233.0,415.1 234.8,415.0 C236.6,414.9 238.2,414.8 239.9,414.0 C241.6,413.2 242.7,412.0 244.0,410.5 C245.3,409.0 246.1,406.8 247.1,405.4 C248.1,404.0 248.9,403.3 249.7,402.9 C250.5,402.4 251.0,402.3 251.8,402.9 C252.6,403.5 253.2,404.9 254.2,406.4 C255.2,407.9 256.2,410.0 257.3,411.5 C258.4,413.0 259.3,413.7 260.4,414.6 C261.5,415.5 262.3,416.4 263.4,416.6 C264.5,416.8 265.6,416.5 266.5,415.6 C267.4,414.7 267.8,413.7 268.5,411.5 C269.2,409.3 269.6,406.3 270.2,403.4 C270.8,400.5 271.1,396.9 271.6,395.2 C272.1,393.5 272.4,393.7 273.0,394.2 C273.6,394.7 274.3,396.7 275.1,398.2 C275.9,399.7 276.7,401.0 277.7,402.3 C278.7,403.6 279.9,405.1 280.8,405.4 C281.7,405.7 282.1,404.9 282.8,403.8 C283.5,402.7 284.0,400.0 284.9,399.3 C285.8,398.6 287.0,399.7 287.9,399.7 C288.8,399.7 289.4,398.9 290.0,399.3 C290.6,399.7 290.7,401.7 291.4,401.9 C292.1,402.1 293.1,400.1 294.1,400.3 C295.1,400.5 296.0,402.0 297.1,402.9 C298.2,403.8 299.1,404.8 300.2,405.4 C301.3,406.0 302.0,406.5 303.3,406.4 C304.6,406.3 305.9,405.2 307.4,405.0 C308.9,404.8 309.7,405.1 311.4,405.4 C313.1,405.7 314.7,406.5 316.6,406.6 C318.5,406.7 320.2,406.4 321.7,406.0 C323.2,405.6 323.6,405.4 324.7,404.4 C325.8,403.4 326.8,401.7 327.8,400.3 C328.8,398.9 329.7,397.6 330.5,396.5 C331.3,395.4 331.7,394.9 332.5,394.2 C333.3,393.5 334.1,392.4 335.1,392.7 C336.1,393.0 336.7,394.7 337.8,395.6 C338.9,396.5 340.0,397.5 341.2,397.6 C342.4,397.7 343.4,396.6 344.7,396.2 C346.0,395.8 347.2,395.4 348.4,395.6 C349.6,395.8 350.4,396.4 351.5,397.2 C352.6,398.0 353.2,399.4 354.5,400.3 C355.8,401.2 357.1,402.3 358.6,402.3 C360.1,402.3 361.2,400.7 362.7,400.3 C364.2,399.9 365.1,400.0 366.8,399.9 C368.5,399.8 370.8,399.2 372.3,399.7 C373.8,400.2 374.0,402.1 375.0,402.9 C376.0,403.7 376.9,404.4 378.0,404.4 C379.1,404.4 380.1,403.1 381.1,402.7 C382.1,402.2 382.6,401.6 383.5,401.9 C384.4,402.2 385.2,403.8 386.2,404.4 C387.2,405.0 387.8,405.4 388.9,405.0 C390.0,404.6 391.3,403.3 392.3,402.3 C393.3,401.3 393.8,400.0 394.4,399.3 C395.0,398.6 395.1,397.8 395.8,398.2 C396.5,398.6 397.5,399.8 398.5,401.3 C399.5,402.8 400.4,404.9 401.5,406.4 C402.6,407.9 403.5,408.9 404.6,409.9 C405.7,410.9 406.4,411.6 407.7,411.9 C409.0,412.2 410.3,411.3 411.8,411.5 C413.3,411.7 414.2,412.8 415.8,413.2 C417.4,413.6 419.2,413.6 420.9,414.0 C422.6,414.4 423.5,414.8 425.0,415.2 C426.5,415.6 427.8,416.1 429.1,416.2 C430.4,416.3 430.9,416.3 432.2,416.0 C433.5,415.7 435.0,415.2 436.3,414.6 C437.6,414.0 438.3,413.2 439.3,412.6 C440.3,412.0 440.9,411.4 441.8,411.5 C442.7,411.6 443.7,412.9 444.5,413.2 C445.3,413.5 445.8,413.5 446.5,413.2 C447.2,412.9 447.7,412.2 448.5,411.7 C449.3,411.2 449.9,410.5 451.0,410.5 C452.1,410.5 453.1,411.1 454.7,411.5 C456.3,411.9 458.0,412.6 459.8,413.0 C461.6,413.4 463.2,413.8 464.9,414.0 C466.6,414.2 467.2,413.7 469.5,413.9 C471.8,414.1 474.7,414.7 477.7,414.9 C480.7,415.1 483.0,415.2 485.9,414.9 C488.8,414.6 491.4,414.0 494.0,413.5 C496.6,413.0 498.0,412.3 500.2,412.3 C502.4,412.3 504.1,413.1 506.3,413.3 C508.5,413.5 510.5,413.6 512.4,413.5 C514.3,413.4 515.0,412.5 516.9,412.5 C518.8,412.5 520.2,413.2 522.7,413.5 C525.2,413.8 527.9,414.3 530.8,414.3 C533.7,414.3 536.0,413.6 539.0,413.5 C542.0,413.4 544.0,413.2 547.2,413.5 C550.4,413.8 555.2,414.6 557.0,414.9" fill="none" stroke="#B08520" stroke-width="2.0" stroke-linejoin="round" stroke-linecap="round"/>
<path d="M199.5,403.8 C200.9,403.6 204.3,403.2 207.2,402.9 C210.1,402.6 212.4,402.4 215.4,401.9 C218.4,401.4 221.0,401.0 223.6,400.3 C226.2,399.6 227.7,398.9 229.7,398.2 C231.7,397.5 233.0,396.8 234.8,396.2 C236.6,395.6 238.1,394.8 239.9,394.8 C241.7,394.8 243.2,395.7 245.0,396.2 C246.8,396.7 248.1,397.4 250.1,397.8 C252.1,398.2 254.1,398.7 256.3,398.7 C258.5,398.7 260.4,398.2 262.4,397.8 C264.4,397.4 265.8,396.8 267.5,396.2 C269.2,395.6 270.1,395.3 271.6,394.2 C273.1,393.1 274.2,392.0 275.7,390.1 C277.2,388.2 278.3,386.1 279.8,383.9 C281.3,381.7 282.4,379.5 283.9,377.8 C285.4,376.1 286.6,376.0 287.9,374.7 C289.2,373.4 290.0,371.7 291.0,370.7 C292.0,369.7 292.7,368.6 293.5,369.0 C294.3,369.4 294.7,371.4 295.5,372.7 C296.3,374.0 297.2,375.7 298.2,376.4 C299.2,377.1 300.2,377.3 301.2,376.8 C302.2,376.3 302.8,375.4 303.7,373.7 C304.6,372.0 305.4,369.2 306.3,367.6 C307.2,366.0 308.0,364.9 308.8,364.9 C309.6,364.9 310.1,366.6 311.0,367.6 C311.9,368.6 312.9,370.6 313.9,370.7 C314.9,370.8 315.6,368.5 316.6,368.2 C317.6,367.9 318.3,369.4 319.2,369.0 C320.1,368.6 320.9,366.3 321.7,366.2 C322.5,366.1 323.0,367.1 323.7,368.6 C324.4,370.1 325.1,372.9 325.8,374.7 C326.5,376.5 326.9,377.8 327.8,378.4 C328.7,379.0 329.6,377.9 330.9,377.8 C332.2,377.7 333.4,377.8 335.1,377.8 C336.8,377.8 338.5,377.9 340.2,377.8 C341.9,377.7 342.9,377.2 344.3,377.2 C345.7,377.2 347.0,378.4 348.0,377.8 C349.0,377.2 349.4,375.4 350.0,373.7 C350.6,372.0 350.8,369.7 351.5,368.6 C352.2,367.5 353.3,368.7 354.1,367.6 C354.9,366.5 355.4,365.6 356.2,362.5 C357.0,359.4 357.8,353.9 358.6,350.5 C359.4,347.1 360.1,345.1 360.7,343.5 C361.3,341.9 361.4,341.2 362.0,341.8 C362.6,342.4 363.2,344.7 364.0,346.8 C364.8,348.9 365.8,352.4 366.6,353.2 C367.4,354.0 367.5,353.1 368.3,351.0 C369.1,348.9 369.9,344.8 370.8,341.5 C371.7,338.2 372.5,334.6 373.3,332.6 C374.1,330.6 374.6,330.0 375.4,330.5 C376.2,331.0 377.2,333.9 378.0,335.2 C378.8,336.5 379.3,338.2 380.1,337.7 C380.9,337.2 381.7,335.2 382.7,332.6 C383.7,330.0 384.6,326.2 385.6,323.4 C386.6,320.6 387.5,318.1 388.2,316.8 C388.9,315.5 389.1,315.4 389.7,316.2 C390.3,317.0 390.7,319.8 391.3,321.3 C391.9,322.8 392.3,324.5 392.9,324.4 C393.5,324.3 393.9,321.8 394.4,320.9 C394.9,320.0 395.1,318.7 395.8,319.3 C396.5,319.9 397.5,322.2 398.5,324.4 C399.5,326.6 400.4,329.4 401.5,331.5 C402.6,333.6 403.6,334.7 404.6,336.0 C405.6,337.3 406.6,337.4 407.3,338.7 C408.0,340.0 408.1,340.9 408.7,343.0 C409.3,345.1 409.8,346.9 410.7,350.2 C411.6,353.5 412.7,357.8 413.8,361.5 C414.9,365.2 415.8,367.8 416.9,370.7 C418.0,373.6 418.8,375.8 419.9,377.8 C421.0,379.8 421.9,380.9 423.0,381.9 C424.1,382.9 425.1,383.5 426.1,383.5 C427.1,383.5 427.8,382.4 428.5,381.9 C429.2,381.4 429.4,380.4 430.1,380.9 C430.8,381.4 431.3,383.1 432.2,384.6 C433.1,386.1 434.2,387.6 435.3,389.0 C436.4,390.4 437.0,391.2 438.3,392.1 C439.6,393.0 440.7,393.6 442.4,394.2 C444.1,394.8 445.7,395.1 447.5,395.2 C449.3,395.3 450.8,394.9 452.6,394.6 C454.4,394.3 455.4,394.3 457.3,393.5 C459.2,392.7 461.4,391.7 463.4,390.4 C465.4,389.1 466.7,388.1 468.5,386.3 C470.3,384.5 471.9,382.1 473.6,380.2 C475.3,378.3 476.0,376.9 477.7,375.7 C479.4,374.5 481.3,374.8 482.8,373.6 C484.3,372.4 484.9,370.4 485.9,368.9 C486.9,367.4 487.4,365.7 488.3,365.5 C489.2,365.3 490.0,367.2 491.0,367.9 C492.0,368.6 492.5,370.0 493.6,369.6 C494.7,369.2 495.9,367.3 497.1,365.9 C498.3,364.5 499.2,362.7 500.2,361.8 C501.2,360.9 501.5,360.7 502.6,360.8 C503.7,360.9 504.9,361.8 506.3,362.2 C507.7,362.6 509.0,362.6 510.4,362.8 C511.8,363.0 512.8,364.0 513.9,363.4 C515.0,362.8 515.6,359.6 516.5,359.7 C517.4,359.8 517.9,362.7 519.0,364.2 C520.1,365.7 521.3,367.6 522.7,368.3 C524.1,369.0 525.3,367.3 526.8,367.9 C528.3,368.5 529.2,370.4 530.8,371.6 C532.4,372.8 534.2,373.5 535.9,374.5 C537.6,375.5 538.5,376.9 540.0,377.1 C541.5,377.3 542.5,376.1 544.1,375.7 C545.7,375.3 547.2,374.5 548.8,375.1 C550.4,375.7 551.4,378.1 552.9,379.2 C554.4,380.3 556.3,380.8 557.0,381.2" fill="none" stroke="#F8D48A" stroke-width="2.0" stroke-linejoin="round" stroke-linecap="round"/>
<path d="M199.5,397.8 C200.5,397.3 203.1,396.2 205.2,395.2 C207.3,394.2 209.3,393.4 211.3,392.1 C213.3,390.8 214.7,389.7 216.4,388.0 C218.1,386.3 219.0,385.3 220.5,382.9 C222.0,380.5 223.3,377.6 224.6,374.7 C225.9,371.8 226.6,369.4 227.7,366.6 C228.8,363.8 229.6,361.7 230.7,359.4 C231.8,357.1 232.5,355.1 233.8,353.9 C235.1,352.7 236.2,353.0 237.9,352.7 C239.6,352.4 241.3,352.6 243.0,352.3 C244.7,352.0 245.9,352.0 247.1,351.2 C248.3,350.4 248.9,348.7 249.7,347.8 C250.5,346.9 251.0,345.8 251.6,346.1 C252.2,346.4 252.6,347.0 253.2,349.2 C253.8,351.4 254.4,355.3 255.2,358.4 C256.0,361.5 256.9,364.3 257.9,366.6 C258.9,368.9 259.8,370.2 260.8,371.1 C261.8,372.0 262.4,371.9 263.4,371.7 C264.4,371.5 265.6,371.1 266.5,370.2 C267.4,369.3 267.8,369.0 268.5,366.6 C269.2,364.2 269.7,360.4 270.4,357.0 C271.1,353.6 271.7,349.9 272.4,347.5 C273.1,345.1 273.6,343.6 274.3,343.5 C275.0,343.4 275.6,345.6 276.3,346.9 C277.0,348.2 277.6,350.0 278.3,350.6 C279.0,351.2 279.5,351.3 280.1,350.2 C280.7,349.1 281.1,346.9 281.8,344.4 C282.5,341.9 283.1,338.6 283.9,336.4 C284.7,334.2 285.3,332.6 286.3,332.3 C287.3,332.0 288.4,335.0 289.4,335.0 C290.4,335.0 291.0,333.6 292.0,332.3 C293.0,331.0 293.9,328.4 294.7,327.8 C295.5,327.2 295.9,327.5 296.7,328.9 C297.5,330.3 298.3,333.5 299.2,335.4 C300.1,337.3 300.8,338.8 301.6,339.5 C302.4,340.2 302.9,340.6 303.7,339.5 C304.5,338.4 305.4,335.2 306.3,333.4 C307.2,331.6 308.0,330.1 308.8,329.7 C309.6,329.2 310.1,329.9 311.0,330.9 C311.9,331.9 312.9,335.1 313.9,335.4 C314.9,335.7 315.6,333.2 316.6,332.3 C317.6,331.4 318.2,330.6 319.2,330.3 C320.2,330.0 321.2,330.0 322.1,330.9 C323.0,331.8 323.4,333.7 324.1,335.4 C324.8,337.1 325.5,339.2 326.2,340.5 C326.9,341.8 327.4,342.8 328.2,342.6 C329.0,342.4 330.0,340.3 330.9,339.3 C331.8,338.3 332.2,337.6 333.1,337.3 C334.0,337.0 335.0,337.7 336.1,337.7 C337.2,337.7 338.2,337.9 339.2,337.3 C340.2,336.7 341.0,335.4 341.9,334.6 C342.8,333.8 343.4,332.5 344.3,332.6 C345.2,332.7 345.9,334.6 346.8,335.2 C347.7,335.8 348.6,336.1 349.4,336.0 C350.2,335.9 350.7,334.5 351.5,334.6 C352.3,334.7 353.3,337.2 354.1,336.6 C354.9,336.0 355.5,334.3 356.2,331.5 C356.9,328.7 357.5,324.8 358.2,321.3 C358.9,317.8 359.5,314.1 360.2,312.1 C360.9,310.1 361.5,309.8 362.3,310.1 C363.1,310.4 363.9,312.7 364.7,313.5 C365.5,314.3 366.1,315.2 366.8,314.8 C367.5,314.4 367.9,313.1 368.8,311.1 C369.7,309.1 370.8,305.7 371.9,303.9 C373.0,302.1 373.9,301.1 375.0,300.9 C376.1,300.7 376.9,302.9 378.0,302.9 C379.1,302.9 380.0,302.2 381.1,300.9 C382.2,299.6 383.1,297.6 384.2,295.8 C385.3,294.0 386.2,292.1 387.2,291.1 C388.2,290.1 388.8,289.8 389.7,290.2 C390.6,290.6 391.3,292.9 392.3,293.1 C393.3,293.3 394.1,291.2 395.0,291.1 C395.9,291.0 396.4,291.7 397.4,292.7 C398.4,293.7 399.4,295.3 400.5,296.8 C401.6,298.3 402.5,299.2 403.6,300.9 C404.7,302.6 405.7,303.6 406.6,306.0 C407.5,308.4 408.0,311.4 408.7,314.2 C409.4,317.0 409.8,318.7 410.7,321.3 C411.6,323.9 412.7,325.7 413.8,328.5 C414.9,331.3 415.8,333.7 416.9,336.6 C418.0,339.5 418.8,342.6 419.9,344.8 C421.0,347.0 421.9,348.2 423.0,348.9 C424.1,349.6 425.1,349.6 426.1,348.9 C427.1,348.2 427.7,345.9 428.5,344.8 C429.3,343.7 429.9,342.6 430.6,342.8 C431.3,343.0 431.4,344.1 432.2,345.8 C433.0,347.5 434.2,350.3 435.3,352.0 C436.4,353.7 437.2,354.3 438.3,355.0 C439.4,355.7 440.2,356.0 441.4,356.1 C442.6,356.2 443.3,355.9 445.0,355.7 C446.7,355.5 448.9,355.6 451.1,355.2 C453.3,354.8 455.1,354.4 457.3,353.4 C459.5,352.4 461.4,350.9 463.4,349.4 C465.4,347.9 466.7,346.9 468.5,344.8 C470.3,342.7 471.9,339.5 473.6,337.5 C475.3,335.5 476.0,335.1 477.7,333.8 C479.4,332.5 481.3,331.8 482.8,330.5 C484.3,329.2 484.9,327.8 485.9,326.5 C486.9,325.2 487.4,323.6 488.3,323.4 C489.2,323.2 489.8,325.3 491.0,325.4 C492.2,325.5 493.6,324.8 495.1,324.2 C496.6,323.6 497.8,322.7 499.2,321.8 C500.6,320.9 501.3,319.7 502.6,319.3 C503.9,318.9 504.9,319.4 506.3,319.7 C507.7,320.0 509.0,320.8 510.4,321.1 C511.8,321.4 512.8,321.6 513.9,321.3 C515.0,321.0 515.5,319.5 516.5,319.7 C517.5,319.9 518.3,321.5 519.6,322.2 C520.9,322.9 522.2,323.3 523.7,323.4 C525.2,323.5 526.5,322.4 527.8,322.8 C529.1,323.2 529.3,324.5 530.8,325.4 C532.3,326.3 534.2,327.1 535.9,327.9 C537.6,328.7 538.5,329.7 540.0,329.9 C541.5,330.1 542.4,329.1 544.1,328.9 C545.8,328.7 547.5,328.3 549.2,328.9 C550.9,329.5 551.9,330.7 553.3,332.0 C554.7,333.3 556.3,335.4 557.0,336.1" fill="none" stroke="#BFBFBF" stroke-width="2.0" stroke-linejoin="round" stroke-linecap="round"/>
<path d="M199.5,375.8 C200.1,375.2 201.5,373.8 203.1,372.7 C204.7,371.6 206.3,370.8 208.2,369.6 C210.1,368.4 211.7,367.4 213.4,365.8 C215.1,364.2 215.9,362.9 217.4,360.7 C218.9,358.5 220.0,357.1 221.5,353.5 C223.0,349.9 224.1,345.2 225.6,340.5 C227.1,335.8 228.4,331.6 229.7,327.2 C231.0,322.8 231.7,319.5 232.8,316.0 C233.9,312.5 234.7,309.5 235.8,307.8 C236.9,306.1 237.6,307.1 238.9,306.8 C240.2,306.5 241.5,306.6 243.0,306.4 C244.5,306.2 245.6,306.1 247.1,305.8 C248.6,305.5 250.1,304.2 251.2,304.7 C252.3,305.2 252.5,306.2 253.2,308.8 C253.9,311.4 254.4,315.3 255.2,319.0 C256.0,322.7 257.0,326.0 257.9,329.3 C258.8,332.6 259.6,335.6 260.4,337.4 C261.2,339.2 261.5,339.3 262.4,339.5 C263.3,339.7 264.5,339.1 265.5,338.5 C266.5,337.9 267.3,338.1 268.1,336.4 C268.9,334.7 269.5,332.8 270.2,329.3 C270.9,325.8 271.5,319.5 272.2,317.0 C272.9,314.5 273.4,315.0 274.0,315.4 C274.6,315.8 275.0,317.7 275.7,319.0 C276.4,320.3 277.0,322.1 277.7,322.7 C278.4,323.3 278.7,323.7 279.4,322.1 C280.1,320.5 280.6,317.4 281.4,313.9 C282.2,310.4 283.0,305.8 283.9,302.7 C284.8,299.6 285.5,297.9 286.5,296.6 C287.5,295.3 288.4,296.4 289.4,295.5 C290.4,294.6 291.0,293.1 292.0,291.5 C293.0,289.9 293.9,287.4 294.7,286.8 C295.5,286.2 295.8,286.4 296.5,288.0 C297.2,289.6 297.8,293.2 298.6,295.5 C299.4,297.8 300.4,299.5 301.2,300.7 C302.0,301.9 302.5,302.9 303.3,302.3 C304.1,301.7 304.8,299.1 305.7,297.6 C306.6,296.1 307.4,294.5 308.4,294.1 C309.4,293.7 310.0,294.7 311.0,295.5 C312.0,296.3 312.9,298.4 313.9,298.6 C314.9,298.8 315.6,297.3 316.6,296.6 C317.6,295.9 318.6,294.8 319.6,294.5 C320.6,294.2 321.3,294.0 322.1,294.9 C322.9,295.8 323.4,297.3 324.1,299.6 C324.8,301.9 325.5,305.8 326.2,307.8 C326.9,309.8 327.4,310.4 328.2,310.5 C329.0,310.6 330.0,309.1 330.9,308.4 C331.8,307.7 332.2,307.0 333.1,306.6 C334.0,306.2 335.0,306.0 336.1,306.0 C337.2,306.0 338.2,306.9 339.2,306.6 C340.2,306.3 341.0,305.3 341.9,304.6 C342.8,303.9 343.4,302.5 344.3,302.5 C345.2,302.5 345.9,304.1 346.8,304.6 C347.7,305.1 348.6,305.6 349.4,305.4 C350.2,305.2 350.7,303.6 351.5,303.3 C352.3,303.0 353.3,304.7 354.1,303.9 C354.9,303.1 355.5,301.9 356.2,298.8 C356.9,295.7 357.5,291.2 358.2,286.6 C358.9,282.0 359.5,276.7 360.2,273.3 C360.9,269.9 361.6,268.6 362.3,267.8 C363.0,267.0 363.5,267.8 364.3,268.6 C365.1,269.4 366.0,272.2 366.8,272.3 C367.6,272.4 367.9,271.3 368.8,269.2 C369.7,267.1 370.8,262.9 371.9,260.5 C373.0,258.1 373.9,256.6 375.0,255.7 C376.1,254.8 376.9,256.1 378.0,255.7 C379.1,255.3 380.0,254.8 381.1,253.7 C382.2,252.6 383.1,251.1 384.2,249.6 C385.3,248.1 386.2,246.5 387.2,245.5 C388.2,244.5 388.8,243.9 389.7,244.1 C390.6,244.3 391.3,246.4 392.3,246.5 C393.3,246.6 394.1,244.7 395.0,244.9 C395.9,245.1 396.4,246.2 397.4,247.6 C398.4,249.0 399.4,250.7 400.5,252.7 C401.6,254.7 402.5,256.8 403.6,258.8 C404.7,260.8 405.7,261.9 406.6,264.0 C407.5,266.1 408.0,267.2 408.7,270.5 C409.4,273.8 409.8,278.9 410.7,282.5 C411.6,286.1 412.7,287.0 413.8,290.7 C414.9,294.4 415.8,298.7 416.9,302.9 C418.0,307.1 418.8,311.2 419.9,314.2 C421.0,317.2 422.0,318.5 423.0,319.7 C424.0,320.9 424.7,321.3 425.6,320.9 C426.5,320.4 427.3,318.7 428.1,317.2 C428.9,315.7 429.4,312.9 430.1,312.7 C430.8,312.5 431.3,314.3 432.2,316.2 C433.1,318.1 434.2,321.4 435.3,323.4 C436.4,325.4 437.2,326.6 438.3,327.4 C439.4,328.2 440.3,328.3 441.4,327.9 C442.5,327.5 443.4,325.7 444.5,325.0 C445.6,324.3 446.4,324.1 447.5,323.8 C448.6,323.5 449.2,323.4 450.6,323.2 C452.0,323.0 453.5,323.6 455.2,322.8 C456.9,322.0 458.5,320.2 460.3,318.5 C462.1,316.8 463.7,315.2 465.4,313.6 C467.1,312.0 468.0,311.7 469.5,309.5 C471.0,307.3 472.1,303.9 473.6,301.3 C475.1,298.7 476.0,296.6 477.7,295.2 C479.4,293.8 481.3,294.8 482.8,293.5 C484.3,292.2 484.9,289.8 485.9,288.0 C486.9,286.2 487.4,283.7 488.3,283.3 C489.2,282.9 489.8,285.9 491.0,286.0 C492.2,286.1 493.6,284.6 495.1,283.9 C496.6,283.2 497.8,282.7 499.2,281.9 C500.6,281.1 501.3,279.7 502.6,279.4 C503.9,279.1 504.9,279.9 506.3,280.5 C507.7,281.1 509.0,282.1 510.4,282.5 C511.8,282.9 512.8,283.1 513.9,282.9 C515.0,282.7 515.6,281.2 516.5,281.5 C517.4,281.8 517.7,283.6 519.0,284.6 C520.3,285.6 522.1,286.5 523.7,287.0 C525.3,287.5 526.5,286.7 527.8,287.4 C529.1,288.1 529.3,289.5 530.8,290.7 C532.3,291.9 534.2,293.1 535.9,294.2 C537.6,295.3 538.5,296.5 540.0,296.8 C541.5,297.1 542.4,295.7 544.1,295.6 C545.8,295.5 547.5,295.4 549.2,296.2 C550.9,297.0 551.9,298.7 553.3,300.3 C554.7,301.9 556.3,304.2 557.0,305.0" fill="none" stroke="#7f7f7f" stroke-width="2.0" stroke-linejoin="round" stroke-linecap="round"/>
<path d="M199.5,334.4 C200.0,333.8 201.1,333.7 202.1,331.3 C203.1,328.9 204.1,325.9 205.2,321.1 C206.3,316.3 207.1,310.6 208.2,304.7 C209.3,298.8 210.3,292.6 211.3,288.4 C212.3,284.2 213.0,282.7 213.8,281.2 C214.6,279.7 215.1,279.4 215.8,279.8 C216.5,280.2 217.0,281.0 217.8,283.3 C218.6,285.6 219.5,290.0 220.5,292.5 C221.5,295.0 222.4,296.8 223.2,297.2 C224.0,297.6 224.4,296.7 225.2,294.5 C226.0,292.3 226.7,288.8 227.7,285.0 C228.7,281.2 229.6,277.5 230.7,273.5 C231.8,269.5 232.7,265.3 233.8,262.7 C234.9,260.1 235.6,259.9 236.9,259.0 C238.2,258.1 239.4,257.6 240.9,257.6 C242.4,257.6 243.5,258.3 245.0,259.0 C246.5,259.7 247.8,260.0 249.1,261.6 C250.4,263.2 251.2,264.8 252.2,268.0 C253.2,271.2 253.7,275.7 254.6,279.2 C255.5,282.7 256.3,285.0 257.3,287.4 C258.3,289.8 259.3,291.1 260.4,292.5 C261.5,293.9 262.3,294.4 263.4,294.9 C264.5,295.4 265.5,295.8 266.5,295.5 C267.5,295.2 268.1,295.0 268.9,293.5 C269.7,292.0 270.3,288.9 271.0,287.4 C271.7,285.9 272.3,284.9 273.0,285.3 C273.7,285.7 274.4,287.9 275.1,289.4 C275.8,290.9 276.4,292.7 277.1,293.5 C277.8,294.3 278.5,295.2 279.2,294.1 C279.9,293.0 280.4,290.7 281.2,287.4 C282.0,284.1 282.4,279.7 283.4,276.0 C284.4,272.3 285.3,268.7 286.5,266.8 C287.7,264.9 288.9,266.8 290.0,265.7 C291.1,264.6 291.8,262.1 292.6,260.6 C293.4,259.1 293.9,257.4 294.7,257.6 C295.5,257.8 296.1,259.9 297.1,261.6 C298.1,263.3 299.2,265.7 300.2,266.8 C301.2,267.9 302.0,268.4 302.9,267.8 C303.8,267.2 304.4,265.3 305.3,263.7 C306.2,262.1 307.1,259.3 308.0,259.0 C308.9,258.7 309.4,260.7 310.4,262.3 C311.4,263.9 312.5,266.6 313.5,267.8 C314.5,269.0 314.9,269.6 315.9,269.2 C316.9,268.8 318.2,266.4 319.2,265.7 C320.2,265.0 320.8,264.4 321.7,265.1 C322.6,265.8 323.2,267.7 324.1,269.8 C325.0,271.9 326.0,275.6 326.8,277.0 C327.6,278.4 327.9,278.5 328.8,277.4 C329.7,276.3 330.8,273.3 331.9,270.8 C333.0,268.3 334.1,265.6 335.0,263.7 C335.9,261.8 336.2,261.4 337.0,260.2 C337.8,259.0 338.4,257.3 339.2,256.8 C340.0,256.3 340.4,256.5 341.2,257.2 C342.0,257.9 342.5,258.4 343.6,260.6 C344.7,262.8 346.2,266.6 347.4,269.2 C348.6,271.8 349.2,273.3 350.4,275.3 C351.6,277.3 353.2,279.7 354.1,280.4 C355.0,281.1 354.9,281.6 355.5,279.4 C356.1,277.2 356.9,272.9 357.6,268.0 C358.3,263.1 358.9,256.4 359.6,252.0 C360.3,247.6 361.0,245.4 361.7,243.5 C362.4,241.6 362.8,241.3 363.7,241.4 C364.6,241.5 365.8,244.3 366.8,244.1 C367.8,243.9 368.3,242.5 369.2,240.4 C370.1,238.3 370.9,235.0 371.9,232.2 C372.9,229.4 373.7,227.1 374.6,225.1 C375.5,223.1 376.1,221.4 377.0,221.0 C377.9,220.6 378.6,223.4 379.5,223.0 C380.4,222.6 381.1,220.9 382.1,218.9 C383.1,216.9 384.2,213.8 385.2,211.8 C386.2,209.8 386.8,208.5 387.6,207.7 C388.4,206.9 388.9,206.6 389.7,207.3 C390.5,208.0 391.3,210.6 392.3,211.4 C393.3,212.2 394.1,210.8 395.0,211.8 C395.9,212.8 396.4,214.3 397.4,216.9 C398.4,219.5 399.4,222.6 400.5,226.1 C401.6,229.6 402.5,232.6 403.6,236.3 C404.7,240.0 405.5,243.2 406.6,246.5 C407.7,249.8 408.8,252.1 409.7,254.5 C410.6,256.9 411.1,257.2 411.8,260.0 C412.5,262.8 412.9,265.6 413.8,270.0 C414.7,274.4 415.8,280.2 416.9,284.5 C418.0,288.8 418.8,291.1 419.9,293.7 C421.0,296.3 421.9,297.7 423.0,298.8 C424.1,299.9 425.1,300.1 426.1,299.9 C427.1,299.7 427.8,298.5 428.5,297.8 C429.2,297.1 429.4,295.6 430.1,295.8 C430.8,296.0 431.3,297.5 432.2,298.8 C433.1,300.1 434.2,301.8 435.3,302.9 C436.4,304.0 437.2,304.4 438.3,305.0 C439.4,305.6 440.3,306.1 441.4,306.0 C442.5,305.9 443.4,304.8 444.5,304.2 C445.6,303.6 446.2,303.0 447.5,302.5 C448.8,302.0 450.1,301.9 451.6,301.4 C453.1,300.9 454.2,300.9 455.7,299.9 C457.2,298.9 458.1,297.1 459.8,295.6 C461.5,294.1 463.2,292.9 464.9,291.5 C466.6,290.1 467.8,289.9 469.5,288.0 C471.2,286.1 472.8,283.3 474.6,280.9 C476.4,278.5 478.0,276.2 479.7,274.7 C481.4,273.2 482.3,274.0 483.8,272.3 C485.3,270.6 487.0,266.5 488.3,265.5 C489.6,264.5 489.8,266.8 491.0,266.6 C492.2,266.4 493.6,265.5 495.1,264.5 C496.6,263.5 497.8,261.7 499.2,260.8 C500.6,259.9 501.3,259.5 502.6,259.4 C503.9,259.3 504.9,259.8 506.3,260.4 C507.7,261.0 509.0,262.1 510.4,262.5 C511.8,262.9 512.8,263.1 513.9,262.9 C515.0,262.7 515.6,261.3 516.5,261.5 C517.4,261.7 517.9,263.5 519.0,264.1 C520.1,264.7 521.3,264.4 522.7,264.9 C524.1,265.3 525.3,265.6 526.8,266.6 C528.3,267.6 529.2,269.0 530.8,270.2 C532.4,271.4 534.0,272.2 535.9,273.1 C537.8,274.0 539.2,274.7 541.1,275.2 C543.0,275.7 544.4,275.2 546.2,275.8 C548.0,276.4 549.4,276.8 551.3,278.4 C553.2,280.0 556.0,283.5 557.0,284.6" fill="none" stroke="#F4A15D" stroke-width="2.0" stroke-linejoin="round" stroke-linecap="round"/>
<path d="M199.5,278.0 C200.0,277.3 201.1,275.9 202.1,273.9 C203.1,271.9 204.1,270.7 205.2,266.8 C206.3,262.9 207.2,257.9 208.2,252.4 C209.2,246.9 210.1,240.5 210.9,236.1 C211.7,231.7 212.3,229.3 212.9,227.9 C213.5,226.5 213.8,227.4 214.4,228.3 C215.0,229.2 215.5,230.9 216.4,233.0 C217.3,235.1 218.5,238.1 219.5,240.2 C220.5,242.3 221.2,244.5 222.1,244.7 C223.0,244.9 223.6,243.7 224.6,241.2 C225.6,238.7 226.4,235.6 227.7,231.0 C229.0,226.4 230.4,220.3 231.7,215.7 C233.0,211.1 233.7,208.0 234.8,205.4 C235.9,202.8 236.9,202.1 237.9,201.3 C238.9,200.5 239.6,200.5 240.5,200.9 C241.4,201.3 241.8,201.5 243.0,203.4 C244.2,205.3 245.6,209.0 247.1,211.6 C248.6,214.2 249.9,214.9 251.2,217.7 C252.5,220.5 253.1,224.0 254.2,226.9 C255.3,229.8 256.0,231.9 257.3,234.0 C258.6,236.1 259.9,237.6 261.4,238.5 C262.9,239.4 264.1,238.5 265.5,239.2 C266.9,239.9 267.9,242.3 268.9,242.2 C269.9,242.1 270.3,239.3 271.0,238.5 C271.7,237.7 271.9,237.2 272.6,237.7 C273.3,238.2 273.9,239.1 274.7,241.2 C275.5,243.3 276.3,247.6 277.1,249.4 C277.9,251.2 278.5,251.6 279.2,251.4 C279.9,251.2 280.2,251.2 280.8,248.4 C281.4,245.6 282.0,239.9 282.8,236.1 C283.6,232.3 284.4,229.2 285.3,227.5 C286.2,225.8 286.9,226.6 287.9,226.5 C288.9,226.4 289.7,227.6 290.6,226.9 C291.5,226.2 292.3,223.7 293.1,222.8 C293.9,221.9 294.4,221.4 295.1,221.8 C295.8,222.2 296.2,223.6 297.1,224.9 C298.0,226.2 299.2,227.9 300.2,228.9 C301.2,229.9 302.0,230.9 302.9,230.4 C303.8,229.9 304.4,227.2 305.3,225.9 C306.2,224.6 307.0,223.2 307.8,223.4 C308.6,223.6 309.0,225.1 310.0,226.9 C311.0,228.7 312.1,232.1 313.1,233.6 C314.1,235.1 314.5,235.4 315.5,235.1 C316.5,234.8 317.6,232.7 318.6,232.0 C319.6,231.3 320.4,230.6 321.3,231.0 C322.2,231.4 322.8,232.4 323.7,234.0 C324.6,235.6 325.4,238.4 326.2,239.8 C327.0,241.2 327.4,241.9 328.2,241.8 C329.0,241.7 329.9,240.9 330.9,239.2 C331.9,237.5 332.6,234.7 333.5,232.5 C334.4,230.3 335.1,228.9 336.1,227.1 C337.1,225.3 338.3,223.4 339.2,222.6 C340.1,221.8 340.4,221.8 341.2,222.4 C342.0,223.0 343.0,224.3 343.9,226.1 C344.8,227.9 345.3,229.8 346.3,232.2 C347.3,234.6 348.4,237.4 349.4,239.4 C350.4,241.4 351.2,242.6 352.1,243.5 C353.0,244.4 353.7,245.1 354.5,244.5 C355.3,243.9 355.9,243.4 356.6,240.4 C357.3,237.4 357.9,232.5 358.6,228.1 C359.3,223.7 360.0,218.8 360.7,215.9 C361.4,213.0 362.0,212.6 362.7,212.2 C363.4,211.8 363.9,213.3 364.7,213.8 C365.5,214.3 366.3,215.6 367.2,214.9 C368.1,214.2 368.9,211.9 369.9,209.7 C370.9,207.5 371.8,204.9 372.9,202.6 C374.0,200.3 375.0,198.0 376.0,197.1 C377.0,196.2 377.7,197.8 378.6,197.5 C379.5,197.2 380.1,196.7 381.1,195.4 C382.1,194.1 383.1,192.0 384.2,190.3 C385.3,188.6 386.2,187.1 387.2,186.2 C388.2,185.3 388.8,184.7 389.7,185.2 C390.6,185.7 391.3,188.0 392.3,188.9 C393.3,189.8 394.1,189.1 395.0,190.3 C395.9,191.5 396.4,193.0 397.4,195.4 C398.4,197.8 399.4,200.3 400.5,203.6 C401.6,206.9 402.5,210.1 403.6,213.8 C404.7,217.5 405.5,219.9 406.6,224.0 C407.7,228.1 408.6,231.5 409.7,236.3 C410.8,241.1 411.7,246.3 412.8,250.6 C413.9,254.9 414.7,257.4 415.8,260.4 C416.9,263.4 417.6,265.6 418.9,267.5 C420.2,269.4 421.5,270.4 423.0,271.2 C424.5,272.0 425.8,272.2 427.1,271.9 C428.4,271.6 429.1,269.7 430.1,269.8 C431.1,269.9 431.7,271.7 432.8,272.7 C433.9,273.7 434.9,274.6 436.3,275.3 C437.7,276.0 439.1,276.7 440.4,276.8 C441.7,276.9 442.3,276.5 443.4,275.9 C444.5,275.3 445.2,274.0 446.5,273.6 C447.8,273.2 449.0,273.7 450.6,273.5 C452.2,273.3 453.5,273.6 455.2,272.7 C456.9,271.8 458.5,269.9 460.3,268.6 C462.1,267.3 463.7,266.6 465.4,265.5 C467.1,264.4 467.8,264.2 469.5,262.5 C471.2,260.8 472.8,257.8 474.6,256.3 C476.4,254.8 478.0,254.5 479.7,253.9 C481.4,253.3 482.3,253.7 483.8,252.7 C485.3,251.7 487.0,249.2 488.3,248.6 C489.6,248.0 489.8,249.3 491.0,249.2 C492.2,249.1 493.6,248.4 495.1,247.8 C496.6,247.2 497.8,246.3 499.2,245.7 C500.6,245.1 501.3,244.5 502.6,244.5 C503.9,244.5 504.9,245.0 506.3,245.7 C507.7,246.4 509.0,247.5 510.4,248.2 C511.8,248.9 512.8,249.5 513.9,249.6 C515.0,249.7 515.6,248.3 516.5,248.6 C517.4,248.9 517.9,250.6 519.0,251.2 C520.1,251.8 521.3,251.4 522.7,251.9 C524.1,252.4 525.3,252.8 526.8,253.9 C528.3,255.0 529.2,256.8 530.8,258.0 C532.4,259.2 534.0,259.9 535.9,260.8 C537.8,261.7 539.2,262.2 541.1,262.9 C543.0,263.6 544.4,264.1 546.2,264.9 C548.0,265.7 549.4,266.2 551.3,267.6 C553.2,269.0 556.0,271.8 557.0,272.7" fill="none" stroke="#ED7D31" stroke-width="2.0" stroke-linejoin="round" stroke-linecap="round"/>
<rect x="136" y="191.4" width="32.69999999999999" height="233.6" rx="0" fill="none" stroke="#111" stroke-width="1.4" stroke-dasharray="7.5,5"/>
<rect x="202.4" y="189.7" width="67.6" height="238.3" rx="0" fill="none" stroke="#111" stroke-width="1.4" stroke-dasharray="7.5,5"/>
<rect x="326.5" y="195.6" width="27.899999999999977" height="230.20000000000002" rx="2" fill="none" stroke="#111" stroke-width="1.4" stroke-dasharray="7.5,5"/>
<rect x="423.2" y="247.3" width="45.0" height="180.7" rx="3" fill="none" stroke="#111" stroke-width="1.4" stroke-dasharray="7.5,5"/>
<rect x="129.5" y="172.6" width="48.80000000000001" height="17.30000000000001" fill="#fff" stroke="#777" stroke-width="1"/>
<text x="153.9" y="185.6" font-size="11.9" text-anchor="middle">Region I</text>
<rect x="208.4" y="171" width="51.900000000000006" height="16.5" fill="#fff" stroke="#777" stroke-width="1"/>
<text x="234.4" y="183.2" font-size="11.9" text-anchor="middle">Region II</text>
<rect x="309.1" y="176" width="56.69999999999999" height="17" fill="#fff" stroke="#777" stroke-width="1"/>
<text x="337.5" y="188.7" font-size="11.9" text-anchor="middle">Region III</text>
<rect x="419" y="224.6" width="56.80000000000001" height="16.400000000000006" fill="#fff" stroke="#777" stroke-width="1"/>
<text x="447.4" y="236.7" font-size="11.9" text-anchor="middle">Region IV</text>
<text transform="translate(145.4,215) rotate(-90)" font-size="8.4" font-weight="bold">3050</text>
<text transform="translate(165.3,215) rotate(-90)" font-size="8.4" font-weight="bold">2800</text>
<line x1="151.3" x2="151.3" y1="200.4" y2="210.8" stroke="#111" stroke-width="1.2"/>
<text transform="translate(216.3,218.9) rotate(-90)" font-size="8.4" font-weight="bold">1740</text>
<line x1="213.5" x2="213.5" y1="221.4" y2="233" stroke="#111" stroke-width="1.2"/>
<text transform="translate(229.9,209.7) rotate(-90)" font-size="8.4" font-weight="bold">1640</text>
<text transform="translate(268.6,232.3) rotate(-90)" font-size="8.4" font-weight="bold">1550</text>
<text transform="translate(344.5,215.3) rotate(-90)" font-size="8.4" font-weight="bold">1245</text>
<line x1="340.8" x2="340.8" y1="215.8" y2="228.3" stroke="#111" stroke-width="1.2"/>
<line x1="238.5" x2="238.5" y1="196" y2="207.4" stroke="#111" stroke-width="1.2"/>
<path d="M444.7,162 L458.8,174.8 L451.8,174.8 L451.8,218.8 L437.9,218.8 L437.9,174.8 L430.6,174.8 Z" fill="#ED7D31" stroke="#3a4a6b" stroke-width="0.8"/>
</svg>
</body></html>
